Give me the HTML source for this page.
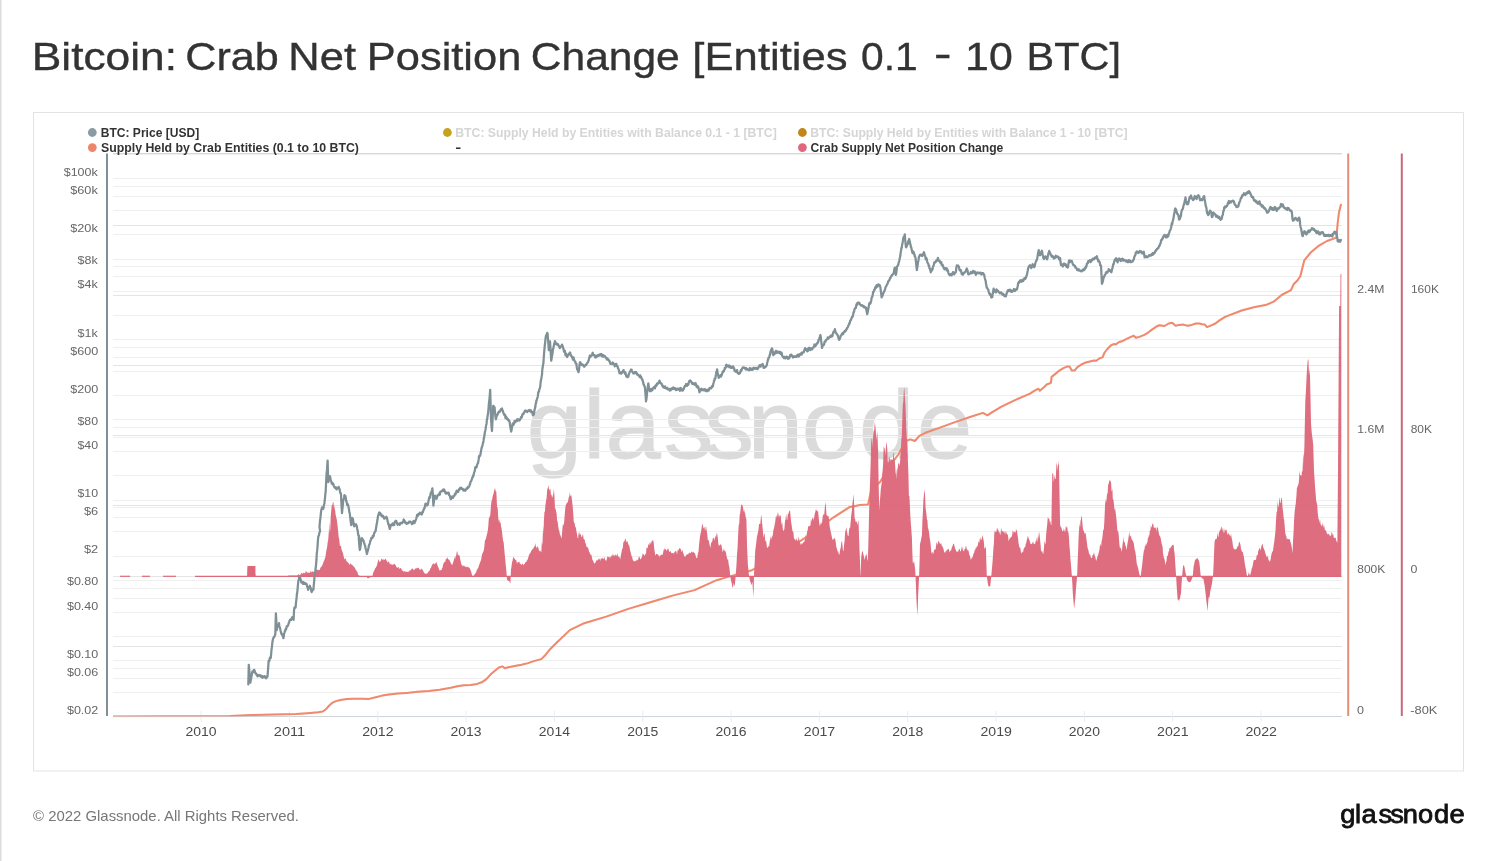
<!DOCTYPE html>
<html lang="en"><head><meta charset="utf-8"><title>Bitcoin: Crab Net Position Change [Entities 0.1 - 10 BTC]</title>
<style>
html,body{margin:0;padding:0;background:#fff;}
body{width:1495px;height:861px;overflow:hidden;font-family:"Liberation Sans",sans-serif;}
svg{display:block}
text{font-family:"Liberation Sans",sans-serif;}
</style></head><body>
<svg width="1495" height="861" viewBox="0 0 1495 861">
<rect x="0" y="0" width="1495" height="861" fill="#ffffff"/>
<rect x="0" y="0" width="1.5" height="861" fill="#dcdcdc"/>

<text fill="#333333" stroke="#333333" stroke-width="0.35" font-size="38.5px" y="70.3">
<tspan x="31.76" y="70.3" textLength="145.28" lengthAdjust="spacingAndGlyphs">Bitcoin:</tspan> <tspan x="185.26" y="70.3" textLength="93.66" lengthAdjust="spacingAndGlyphs">Crab</tspan> <tspan x="288.33" y="70.3" textLength="67.65" lengthAdjust="spacingAndGlyphs">Net</tspan> <tspan x="366.84" y="70.3" textLength="154.45" lengthAdjust="spacingAndGlyphs">Position</tspan> <tspan x="530.79" y="70.3" textLength="149.00" lengthAdjust="spacingAndGlyphs">Change</tspan> <tspan x="692.38" y="70.3" textLength="155.27" lengthAdjust="spacingAndGlyphs">[Entities</tspan> <tspan x="861.01" y="70.3" textLength="56.67" lengthAdjust="spacingAndGlyphs">0.1</tspan> <tspan x="933.92" y="66.8" textLength="17.47" lengthAdjust="spacingAndGlyphs">-</tspan> <tspan x="965.06" y="70.3" textLength="47.70" lengthAdjust="spacingAndGlyphs">10</tspan> <tspan x="1026.50" y="70.3" textLength="94.41" lengthAdjust="spacingAndGlyphs">BTC]</tspan>
</text>
<rect x="33.5" y="112.5" width="1430" height="658.5" fill="#fff" stroke="#e3e3e3" stroke-width="1"/>
<g fill="#dbdbdb" stroke="#dbdbdb" stroke-width="1.0">
<text transform="scale(1.035,1)" x="509.01 563.55 584.97 641.25 680.53 722.55 774.68 830.03 885.94" y="458" font-size="96px">glassnode</text>
</g>
<g stroke="#efefef" stroke-width="1" shape-rendering="crispEdges">
<line x1="112.5" x2="1341.5" y1="692.5" y2="692.5"/>
<line x1="112.5" x2="1341.5" y1="678.5" y2="678.5"/>
<line x1="112.5" x2="1341.5" y1="668.5" y2="668.5"/>
<line x1="112.5" x2="1341.5" y1="660.5" y2="660.5"/>
<line x1="112.5" x2="1341.5" y1="636.5" y2="636.5"/>
<line x1="112.5" x2="1341.5" y1="612.5" y2="612.5"/>
<line x1="112.5" x2="1341.5" y1="598.5" y2="598.5"/>
<line x1="112.5" x2="1341.5" y1="588.5" y2="588.5"/>
<line x1="112.5" x2="1341.5" y1="580.5" y2="580.5"/>
<line x1="112.5" x2="1341.5" y1="556.5" y2="556.5"/>
<line x1="112.5" x2="1341.5" y1="531.5" y2="531.5"/>
<line x1="112.5" x2="1341.5" y1="517.5" y2="517.5"/>
<line x1="112.5" x2="1341.5" y1="507.5" y2="507.5"/>
<line x1="112.5" x2="1341.5" y1="500.5" y2="500.5"/>
<line x1="112.5" x2="1341.5" y1="475.5" y2="475.5"/>
<line x1="112.5" x2="1341.5" y1="451.5" y2="451.5"/>
<line x1="112.5" x2="1341.5" y1="437.5" y2="437.5"/>
<line x1="112.5" x2="1341.5" y1="427.5" y2="427.5"/>
<line x1="112.5" x2="1341.5" y1="419.5" y2="419.5"/>
<line x1="112.5" x2="1341.5" y1="395.5" y2="395.5"/>
<line x1="112.5" x2="1341.5" y1="371.5" y2="371.5"/>
<line x1="112.5" x2="1341.5" y1="357.5" y2="357.5"/>
<line x1="112.5" x2="1341.5" y1="347.5" y2="347.5"/>
<line x1="112.5" x2="1341.5" y1="339.5" y2="339.5"/>
<line x1="112.5" x2="1341.5" y1="315.5" y2="315.5"/>
<line x1="112.5" x2="1341.5" y1="291.5" y2="291.5"/>
<line x1="112.5" x2="1341.5" y1="276.5" y2="276.5"/>
<line x1="112.5" x2="1341.5" y1="266.5" y2="266.5"/>
<line x1="112.5" x2="1341.5" y1="259.5" y2="259.5"/>
<line x1="112.5" x2="1341.5" y1="234.5" y2="234.5"/>
<line x1="112.5" x2="1341.5" y1="210.5" y2="210.5"/>
<line x1="112.5" x2="1341.5" y1="196.5" y2="196.5"/>
<line x1="112.5" x2="1341.5" y1="186.5" y2="186.5"/>
<line x1="112.5" x2="1341.5" y1="178.5" y2="178.5"/>
<line x1="112.5" x2="1341.5" y1="154.5" y2="154.5"/>
<line x1="112.5" x2="1341.5" y1="154.5" y2="154.5"/>
</g>
<g stroke="#e4e4e4" stroke-width="1" shape-rendering="crispEdges">
<line x1="112.5" x2="1341.5" y1="646.5" y2="646.5"/>
<line x1="112.5" x2="1341.5" y1="576.5" y2="576.5"/>
<line x1="112.5" x2="1341.5" y1="505.5" y2="505.5"/>
<line x1="112.5" x2="1341.5" y1="435.5" y2="435.5"/>
<line x1="112.5" x2="1341.5" y1="365.5" y2="365.5"/>
<line x1="112.5" x2="1341.5" y1="295.5" y2="295.5"/>
<line x1="112.5" x2="1341.5" y1="225.5" y2="225.5"/>
</g>
<line x1="112.5" x2="1341.5" y1="153.5" y2="153.5" stroke="#d8d8d8" stroke-width="1" shape-rendering="crispEdges"/>
<line x1="112.5" x2="1341.5" y1="716.5" y2="716.5" stroke="#cfd3da" stroke-width="1" shape-rendering="crispEdges"/>
<g stroke="#ececec" stroke-width="1">
<line x1="201.1" x2="201.1" y1="711" y2="722"/>
<line x1="289.4" x2="289.4" y1="711" y2="722"/>
<line x1="377.8" x2="377.8" y1="711" y2="722"/>
<line x1="466.1" x2="466.1" y1="711" y2="722"/>
<line x1="554.4" x2="554.4" y1="711" y2="722"/>
<line x1="642.8" x2="642.8" y1="711" y2="722"/>
<line x1="731.1" x2="731.1" y1="711" y2="722"/>
<line x1="819.4" x2="819.4" y1="711" y2="722"/>
<line x1="907.7" x2="907.7" y1="711" y2="722"/>
<line x1="996.1" x2="996.1" y1="711" y2="722"/>
<line x1="1084.4" x2="1084.4" y1="711" y2="722"/>
<line x1="1172.7" x2="1172.7" y1="711" y2="722"/>
<line x1="1261.1" x2="1261.1" y1="711" y2="722"/>
</g>
<g fill="#4a4a4a">
<text x="185.52" y="735.8" font-size="12px" textLength="31.11" lengthAdjust="spacingAndGlyphs">2010</text>
<text x="273.82" y="735.8" font-size="12px" textLength="31.29" lengthAdjust="spacingAndGlyphs">2011</text>
<text x="362.17" y="735.8" font-size="12px" textLength="31.42" lengthAdjust="spacingAndGlyphs">2012</text>
<text x="450.51" y="735.8" font-size="12px" textLength="31.11" lengthAdjust="spacingAndGlyphs">2013</text>
<text x="538.84" y="735.8" font-size="12px" textLength="31.11" lengthAdjust="spacingAndGlyphs">2014</text>
<text x="627.17" y="735.8" font-size="12px" textLength="31.11" lengthAdjust="spacingAndGlyphs">2015</text>
<text x="715.50" y="735.8" font-size="12px" textLength="31.11" lengthAdjust="spacingAndGlyphs">2016</text>
<text x="803.82" y="735.8" font-size="12px" textLength="31.42" lengthAdjust="spacingAndGlyphs">2017</text>
<text x="892.16" y="735.8" font-size="12px" textLength="31.11" lengthAdjust="spacingAndGlyphs">2018</text>
<text x="980.48" y="735.8" font-size="12px" textLength="31.42" lengthAdjust="spacingAndGlyphs">2019</text>
<text x="1068.82" y="735.8" font-size="12px" textLength="31.11" lengthAdjust="spacingAndGlyphs">2020</text>
<text x="1157.14" y="735.8" font-size="12px" textLength="31.42" lengthAdjust="spacingAndGlyphs">2021</text>
<text x="1245.47" y="735.8" font-size="12px" textLength="31.42" lengthAdjust="spacingAndGlyphs">2022</text>
</g>
<clipPath id="pc"><rect x="113" y="150" width="1229" height="566.2"/></clipPath>
<path clip-path="url(#pc)" d="M113.0,716.5 L230.0,716.1 L252.1,715.0 L274.2,714.5 L296.2,713.9 L307.3,713.2 L318.3,712.3 L322.7,711.5 L326.0,709.2 L329.3,705.5 L332.6,702.6 L336.0,701.1 L340.4,700.0 L347.0,699.1 L353.6,698.7 L362.5,698.7 L369.1,698.9 L375.7,697.3 L382.3,695.6 L388.9,694.5 L397.8,693.6 L406.6,692.9 L417.6,691.8 L428.7,691.1 L439.7,689.8 L450.8,687.8 L457.4,686.3 L464.0,685.2 L470.6,685.0 L477.2,683.9 L481.7,682.3 L486.1,679.4 L490.5,674.6 L494.9,670.8 L499.3,667.3 L502.6,666.4 L504.8,668.2 L508.1,667.3 L514.8,666.0 L521.4,664.7 L528.0,663.1 L534.6,660.9 L541.3,659.1 L545.7,654.7 L550.1,649.2 L554.5,644.8 L569.8,630.1 L584.2,623.2 L606.2,616.6 L628.3,608.9 L650.4,602.3 L672.5,595.6 L694.5,590.1 L716.6,580.2 L729.8,576.4 L751.9,570.2 L760.8,565.8 L778.4,554.8 L796.1,543.8 L815.9,530.5 L833.6,517.3 L849.1,507.3 L860.1,505.1 L868.1,504.4 L871.1,490.8 L880.2,481.7 L889.3,466.6 L898.3,454.5 L905.9,441.0 L910.4,439.4 L914.9,441.0 L919.4,435.8 L925.5,432.8 L940.6,427.4 L955.7,421.9 L970.8,416.8 L982.9,412.9 L987.4,415.3 L991.9,412.3 L1001.0,406.8 L1016.1,399.6 L1030.0,393.6 L1034.2,390.8 L1038.4,388.7 L1039.8,390.8 L1043.9,387.3 L1046.7,384.5 L1050.9,382.9 L1051.6,376.9 L1055.1,374.1 L1059.3,370.6 L1063.4,368.1 L1067.6,366.4 L1069.7,366.7 L1071.8,370.6 L1074.6,370.6 L1077.4,367.1 L1081.6,364.3 L1085.7,362.5 L1089.9,361.5 L1094.1,360.6 L1096.2,360.8 L1099.7,358.3 L1102.5,357.4 L1104.6,352.5 L1107.4,349.0 L1110.8,345.5 L1113.6,344.1 L1115.7,344.4 L1119.2,342.0 L1122.0,341.3 L1126.2,339.2 L1130.3,337.1 L1133.8,335.7 L1135.9,337.8 L1139.4,336.9 L1144.3,334.8 L1148.5,332.3 L1152.6,329.1 L1156.8,326.3 L1159.6,325.3 L1164.5,326.0 L1168.7,323.5 L1172.2,322.8 L1175.6,325.7 L1179.1,324.9 L1183.3,324.6 L1187.5,325.7 L1191.7,324.9 L1195.9,323.5 L1199.3,323.5 L1202.1,324.3 L1204.9,324.6 L1207.0,327.1 L1211.2,325.3 L1215.4,323.5 L1219.5,320.4 L1225.1,316.9 L1241.6,310.5 L1254.9,307.0 L1265.6,305.1 L1273.6,301.7 L1281.6,295.0 L1291.0,290.2 L1293.6,284.3 L1297.6,280.3 L1300.3,276.3 L1304.3,260.3 L1311.0,252.2 L1319.0,245.6 L1327.0,241.0 L1336.4,237.6 L1337.7,222.9 L1339.0,212.2 L1340.9,204.7" fill="none" stroke="#ef876b" stroke-width="2.0" stroke-linejoin="round" stroke-linecap="round"/>
<path d="M230.0,576.3 L230.0,576.4 L230.5,576.4 L230.9,576.4 L231.4,576.4 L231.8,576.4 L232.3,576.4 L232.7,576.4 L233.2,576.4 L233.6,576.4 L234.1,576.4 L234.5,576.4 L235.0,576.4 L235.4,576.4 L235.9,576.4 L236.3,576.4 L236.8,576.4 L237.2,576.4 L237.7,576.4 L238.2,576.4 L238.6,576.4 L239.1,576.4 L239.5,576.4 L240.0,576.4 L240.4,576.4 L240.9,576.4 L241.3,576.4 L241.8,576.4 L242.2,576.4 L242.7,576.4 L243.1,576.4 L243.6,576.4 L244.0,576.4 L244.5,576.4 L245.0,576.4 L245.4,576.4 L245.9,576.4 L246.3,576.4 L246.8,576.4 L247.2,576.4 L247.7,568.2 L248.2,567.5 L248.8,566.4 L249.3,566.3 L249.9,565.7 L250.3,566.0 L250.8,567.0 L251.3,566.3 L251.8,567.1 L252.2,565.6 L252.7,566.9 L253.2,566.6 L253.7,567.5 L254.2,567.5 L254.7,568.8 L255.4,575.3 L256.0,576.4 L256.5,576.4 L257.0,576.4 L257.4,576.4 L257.9,576.4 L258.3,576.4 L258.8,576.4 L259.2,576.4 L259.7,576.4 L260.1,576.4 L260.6,576.4 L261.0,576.4 L261.5,576.4 L262.0,576.4 L262.4,576.4 L262.9,576.4 L263.3,576.4 L263.8,576.4 L264.2,576.4 L264.7,576.4 L265.1,576.4 L265.6,576.4 L266.0,576.4 L266.5,576.4 L267.0,576.4 L267.4,576.4 L267.9,576.4 L268.3,576.4 L268.8,576.4 L269.2,576.4 L269.7,576.4 L270.1,576.4 L270.6,576.4 L271.0,576.4 L271.5,576.4 L271.9,576.4 L272.4,576.4 L272.9,576.4 L273.3,576.4 L273.8,576.4 L274.2,576.4 L274.7,576.4 L275.1,576.4 L275.6,576.4 L276.0,576.4 L276.5,576.4 L276.9,576.4 L277.4,576.4 L277.9,576.4 L278.3,576.4 L278.8,576.4 L279.2,576.4 L279.7,576.4 L280.1,576.4 L280.6,576.4 L281.0,576.4 L281.5,576.4 L281.9,576.4 L282.4,576.4 L282.9,576.4 L283.3,576.4 L283.8,576.4 L284.2,576.4 L284.7,576.4 L285.1,576.4 L285.6,576.4 L286.0,576.4 L286.5,576.4 L286.9,576.4 L287.4,576.4 L287.9,575.9 L288.5,575.5 L289.0,575.5 L289.4,575.5 L289.9,575.5 L290.3,575.5 L290.8,575.5 L291.2,575.5 L291.7,575.5 L292.1,575.5 L292.6,575.5 L293.0,575.5 L293.5,575.5 L294.0,575.5 L294.4,575.5 L294.9,575.5 L295.3,575.5 L295.8,575.5 L296.2,575.5 L296.7,575.4 L297.2,575.3 L297.6,575.2 L298.1,574.6 L298.6,574.3 L299.1,574.8 L299.5,575.0 L300.0,575.1 L300.5,574.4 L301.0,574.0 L301.4,572.8 L301.9,573.1 L302.4,573.5 L302.8,574.3 L303.3,572.7 L303.8,572.7 L304.3,573.5 L304.7,572.8 L305.2,573.4 L305.7,571.0 L306.2,571.4 L306.6,571.7 L307.1,572.2 L307.6,573.2 L308.1,572.5 L308.5,573.0 L309.0,572.0 L309.5,573.0 L310.0,572.7 L310.5,571.5 L310.9,570.8 L311.4,572.1 L311.9,572.6 L312.4,571.5 L312.9,571.1 L313.4,571.9 L313.9,572.0 L314.4,571.8 L314.9,571.9 L315.4,571.5 L315.8,570.2 L316.3,570.0 L316.8,569.0 L317.3,569.8 L317.8,569.9 L318.3,570.3 L318.8,569.7 L319.2,570.0 L319.7,570.1 L320.2,568.5 L320.7,567.2 L321.1,567.0 L321.6,566.4 L322.2,565.3 L322.7,564.6 L323.3,562.6 L323.8,561.3 L324.4,559.9 L324.9,558.6 L325.5,556.6 L326.0,552.8 L326.6,549.4 L327.1,547.2 L327.7,541.9 L328.2,540.1 L328.8,531.7 L329.3,522.0 L329.8,532.9 L330.3,529.1 L330.7,516.6 L331.2,511.0 L331.8,505.0 L332.4,505.0 L332.9,502.2 L333.5,502.3 L334.1,510.2 L334.6,504.6 L335.1,510.2 L335.6,514.4 L336.1,517.1 L336.7,519.0 L337.2,522.9 L337.8,527.4 L338.6,536.7 L339.3,539.9 L339.9,546.3 L340.4,545.7 L341.0,546.1 L341.5,549.6 L342.0,550.5 L342.5,552.2 L343.0,553.1 L343.6,556.3 L344.2,558.2 L344.8,559.7 L345.3,558.2 L345.9,559.0 L346.4,560.9 L347.0,561.7 L347.5,562.1 L347.9,562.4 L348.4,563.1 L348.9,563.6 L349.4,564.7 L349.8,564.7 L350.3,563.2 L350.9,563.8 L351.4,564.5 L352.0,565.1 L352.5,565.3 L353.1,565.6 L353.6,566.8 L354.2,567.0 L354.7,567.4 L355.3,568.8 L355.8,569.8 L356.4,570.8 L356.9,571.6 L357.5,572.1 L358.1,574.8 L358.7,575.3 L359.2,575.6 L359.7,576.0 L360.2,576.4 L360.7,576.4 L361.2,576.4 L361.6,576.4 L362.1,576.4 L362.5,576.4 L363.0,576.4 L363.5,576.4 L363.9,576.4 L364.4,576.4 L364.8,576.4 L365.3,576.4 L365.8,576.4 L366.3,576.8 L366.9,577.2 L367.4,578.3 L368.0,578.0 L368.5,578.3 L369.1,578.3 L369.6,577.3 L370.2,576.9 L370.7,577.4 L371.3,577.0 L371.8,576.7 L372.4,576.4 L372.9,573.8 L373.5,572.0 L374.1,570.7 L374.7,569.4 L375.3,567.9 L375.8,567.8 L376.4,566.5 L376.9,565.5 L377.5,563.1 L378.0,560.9 L378.5,559.2 L379.1,560.9 L379.6,562.3 L380.1,561.2 L380.7,561.4 L381.2,558.6 L381.8,559.0 L382.3,560.2 L382.8,558.9 L383.3,558.8 L383.7,560.6 L384.2,560.1 L384.7,559.5 L385.2,559.0 L385.6,558.6 L386.1,559.9 L386.7,560.4 L387.2,561.8 L387.7,562.7 L388.3,561.2 L388.8,562.1 L389.4,562.6 L389.9,564.5 L390.3,564.2 L390.8,563.5 L391.3,565.1 L391.8,564.0 L392.3,565.0 L392.8,564.4 L393.4,564.6 L393.9,564.2 L394.5,563.2 L395.0,565.0 L395.5,564.6 L396.0,566.6 L396.5,567.4 L397.0,566.7 L397.4,567.8 L397.9,567.9 L398.4,567.2 L398.9,567.1 L399.4,569.1 L400.0,568.6 L400.5,567.8 L401.1,568.2 L401.6,569.4 L402.0,570.2 L402.5,570.5 L403.0,571.3 L403.4,571.2 L403.9,571.4 L404.4,571.6 L404.9,570.9 L405.3,571.4 L405.8,572.2 L406.3,571.2 L406.8,572.0 L407.2,571.9 L407.7,571.7 L408.3,571.6 L408.8,571.8 L409.4,571.3 L409.9,569.8 L410.5,570.5 L411.0,570.1 L411.6,569.1 L412.1,568.7 L412.6,568.6 L413.1,568.6 L413.5,570.3 L414.0,570.1 L414.5,569.5 L415.0,569.0 L415.4,568.4 L416.0,568.3 L416.5,568.4 L417.1,567.9 L417.6,567.7 L418.2,567.8 L418.7,568.0 L419.3,568.9 L419.8,569.8 L420.4,570.1 L420.9,569.1 L421.5,568.7 L422.1,568.9 L422.6,569.9 L423.2,570.8 L423.7,572.0 L424.3,572.7 L424.8,573.6 L425.4,573.6 L425.9,573.9 L426.5,573.5 L427.0,573.5 L427.6,572.9 L428.1,572.2 L428.7,571.2 L429.2,571.0 L429.8,570.3 L430.3,568.3 L430.9,568.2 L431.4,566.2 L432.0,565.5 L432.5,564.1 L433.1,564.2 L433.6,562.9 L434.2,563.8 L434.7,564.6 L435.3,562.9 L435.8,563.5 L436.4,561.8 L437.0,563.9 L437.5,565.2 L438.1,567.1 L438.7,568.0 L439.3,570.6 L439.8,570.2 L440.4,569.9 L440.9,570.4 L441.5,569.8 L442.0,568.6 L442.5,567.8 L443.0,565.0 L443.6,563.3 L444.1,562.3 L444.7,561.9 L445.2,561.9 L445.8,559.2 L446.3,558.3 L446.9,559.1 L447.4,557.1 L448.0,559.3 L448.5,559.2 L449.0,559.8 L449.6,560.6 L450.2,561.7 L450.8,562.9 L451.3,564.3 L451.9,564.4 L452.5,564.8 L453.0,563.1 L453.5,561.2 L454.1,559.2 L454.6,556.8 L455.1,559.3 L455.6,556.3 L456.2,555.4 L456.8,551.7 L457.4,551.3 L457.9,555.2 L458.5,554.6 L459.0,555.9 L459.6,555.2 L460.2,559.5 L460.8,561.8 L461.3,564.4 L461.9,564.7 L462.4,565.4 L462.9,566.8 L463.4,565.7 L464.0,565.2 L464.5,566.0 L465.1,567.1 L465.7,566.8 L466.2,566.6 L466.8,567.3 L467.3,567.5 L467.9,566.3 L468.4,567.4 L469.0,567.2 L469.5,567.9 L470.0,568.8 L470.5,570.0 L471.1,571.5 L471.6,573.5 L472.2,575.3 L472.8,577.5 L473.4,576.4 L473.9,575.3 L474.5,574.2 L475.0,574.3 L475.6,572.8 L476.1,572.4 L476.7,569.8 L477.2,569.7 L477.8,568.3 L478.3,567.7 L478.9,565.4 L479.4,564.6 L480.0,562.6 L480.6,561.3 L481.1,559.7 L481.7,556.3 L482.2,553.9 L482.8,552.7 L483.3,551.7 L483.9,550.0 L484.4,545.9 L485.0,539.7 L485.5,539.9 L486.0,538.6 L486.5,536.1 L487.2,533.6 L487.8,530.4 L488.3,525.9 L488.8,518.6 L489.3,517.5 L489.8,516.4 L490.3,515.1 L490.9,506.5 L491.5,501.1 L492.1,499.8 L492.7,495.9 L493.3,494.4 L493.9,491.8 L494.5,489.3 L495.1,488.2 L495.7,491.6 L496.3,491.3 L497.1,507.9 L497.6,506.4 L498.2,517.3 L498.8,521.4 L499.3,519.4 L499.9,523.3 L500.5,522.0 L501.0,526.1 L501.5,528.3 L502.0,531.2 L502.4,535.2 L503.1,541.2 L503.6,541.7 L504.2,548.4 L504.7,554.3 L505.3,559.8 L505.8,565.8 L506.4,571.3 L507.0,579.7 L507.6,579.9 L508.1,580.9 L508.6,580.7 L509.2,581.1 L509.8,582.6 L510.4,583.6 L511.0,569.5 L511.6,565.8 L512.1,562.0 L512.6,560.5 L513.1,557.4 L513.7,557.2 L514.2,558.1 L514.7,559.0 L515.2,559.5 L515.8,560.0 L516.4,560.6 L517.0,564.0 L517.6,561.9 L518.2,562.1 L518.7,562.2 L519.3,561.2 L519.8,563.8 L520.3,563.8 L520.8,563.9 L521.4,565.2 L521.9,564.2 L522.5,563.6 L523.0,563.9 L523.4,565.6 L523.9,564.4 L524.4,563.7 L524.9,564.1 L525.3,561.7 L525.8,562.5 L526.4,561.7 L526.9,560.5 L527.5,559.7 L528.0,558.6 L528.6,556.4 L529.1,554.6 L529.7,554.0 L530.2,552.3 L530.8,553.0 L531.3,550.3 L531.9,550.5 L532.4,548.8 L533.0,549.2 L533.5,548.2 L534.1,546.3 L534.6,547.2 L535.2,543.0 L535.7,545.7 L536.3,547.0 L536.8,548.6 L537.4,546.4 L537.9,546.4 L538.5,548.2 L539.1,551.3 L539.5,551.2 L540.0,549.9 L540.6,551.2 L541.3,552.6 L541.8,541.9 L542.4,545.1 L542.8,534.2 L543.3,525.5 L543.5,534.8 L543.9,520.8 L544.4,512.4 L544.9,511.3 L545.4,505.5 L546.0,501.3 L546.6,497.7 L547.2,489.5 L547.8,488.4 L548.4,484.9 L548.9,488.5 L549.4,490.7 L549.9,489.0 L550.4,488.9 L551.0,495.5 L551.5,494.3 L552.1,497.9 L552.8,495.8 L553.4,493.4 L553.9,488.6 L554.5,497.2 L555.0,509.3 L555.5,508.0 L556.0,510.9 L556.6,513.6 L557.1,520.7 L557.6,521.5 L558.1,525.6 L558.7,529.4 L559.3,531.1 L559.9,534.2 L560.5,535.6 L561.0,537.1 L561.6,538.5 L562.1,532.7 L562.7,525.4 L563.2,523.6 L563.7,526.0 L564.2,521.6 L564.7,515.1 L565.3,507.8 L565.9,504.7 L566.5,503.8 L567.1,502.0 L567.7,503.1 L568.3,499.7 L568.8,497.1 L569.3,496.3 L569.8,491.9 L570.3,495.5 L570.8,496.2 L571.3,495.1 L572.0,500.6 L572.7,506.3 L573.2,512.9 L573.7,520.9 L574.2,523.0 L574.7,523.1 L575.2,528.0 L575.8,526.3 L576.4,531.3 L576.9,533.5 L577.5,537.5 L578.1,538.5 L578.6,532.2 L579.2,535.4 L579.7,531.8 L580.3,534.5 L580.8,534.3 L581.4,536.7 L581.9,537.2 L582.5,535.6 L583.0,534.0 L583.6,538.8 L584.2,539.4 L584.7,539.5 L585.3,543.2 L585.8,543.4 L586.4,546.8 L586.9,546.5 L587.5,547.4 L588.0,547.5 L588.6,549.4 L589.1,552.6 L589.7,552.1 L590.2,554.8 L590.8,554.3 L591.3,554.7 L591.9,557.0 L592.4,560.0 L593.0,560.4 L593.5,561.5 L594.1,563.4 L594.6,563.6 L595.2,562.7 L595.8,562.1 L596.4,560.6 L597.0,559.5 L597.5,560.8 L598.0,560.0 L598.5,558.9 L599.1,558.6 L599.6,558.9 L600.2,561.1 L600.7,558.7 L601.3,558.6 L601.8,558.4 L602.4,557.7 L602.9,558.8 L603.5,559.1 L604.0,558.0 L604.6,557.0 L605.1,560.3 L605.7,560.3 L606.2,561.1 L606.8,558.9 L607.3,556.6 L607.9,556.8 L608.4,557.2 L609.0,556.5 L609.5,556.8 L610.1,558.4 L610.6,556.6 L611.2,556.8 L611.7,555.1 L612.3,556.3 L612.8,553.5 L613.4,555.9 L614.0,554.0 L614.5,556.8 L615.1,554.3 L615.6,555.0 L616.2,556.2 L616.7,554.9 L617.3,553.5 L617.9,555.8 L618.4,556.7 L619.0,557.0 L619.5,556.8 L620.1,559.5 L620.6,557.3 L621.1,554.0 L621.6,551.9 L622.1,549.0 L622.7,548.6 L623.3,542.5 L623.9,541.5 L624.4,541.5 L624.9,539.5 L625.4,538.3 L626.0,540.4 L626.6,542.6 L627.2,541.3 L627.7,541.4 L628.2,544.8 L628.7,544.5 L629.4,546.2 L630.1,550.2 L630.6,552.2 L631.1,554.0 L631.6,556.6 L632.1,556.4 L632.6,559.3 L633.2,560.7 L633.7,560.9 L634.3,561.1 L634.9,561.7 L635.5,560.4 L636.0,561.4 L636.6,559.8 L637.1,559.6 L637.7,560.5 L638.2,559.6 L638.8,556.7 L639.3,556.7 L639.9,557.8 L640.4,559.8 L641.0,558.4 L641.5,557.7 L642.1,556.5 L642.6,553.5 L643.2,554.0 L643.8,554.4 L644.3,555.4 L644.9,555.5 L645.4,554.0 L646.0,553.4 L646.5,547.2 L647.1,548.3 L647.7,547.7 L648.2,544.6 L648.8,544.3 L649.3,545.4 L649.8,541.8 L650.4,542.7 L650.9,544.2 L651.5,541.7 L652.0,540.4 L652.5,541.1 L653.0,539.4 L653.7,542.8 L654.3,548.9 L654.9,552.8 L655.4,555.5 L655.9,554.9 L656.4,553.5 L657.0,554.0 L657.5,554.3 L658.1,554.5 L658.7,556.0 L659.2,555.1 L659.8,557.4 L660.3,555.5 L660.9,554.8 L661.4,554.7 L662.0,554.7 L662.5,555.1 L663.1,552.7 L663.6,549.7 L664.2,549.9 L664.7,547.9 L665.3,549.6 L665.8,549.1 L666.4,550.9 L666.9,549.8 L667.4,549.6 L668.0,548.4 L668.5,548.9 L669.1,551.4 L669.7,552.0 L670.2,551.6 L670.8,550.9 L671.3,553.2 L671.9,552.9 L672.5,553.2 L673.0,552.6 L673.6,554.0 L674.2,551.6 L674.8,553.0 L675.3,551.0 L675.9,551.1 L676.4,551.5 L677.0,554.5 L677.5,551.0 L678.1,549.2 L678.6,550.7 L679.2,548.1 L679.7,548.4 L680.3,548.6 L680.8,549.2 L681.4,551.2 L681.9,552.1 L682.4,549.2 L682.9,552.2 L683.5,553.6 L684.0,555.6 L684.6,556.7 L685.1,556.5 L685.7,556.6 L686.2,554.5 L686.8,554.9 L687.4,553.6 L687.9,555.3 L688.5,553.2 L689.0,553.5 L689.6,552.5 L690.1,552.8 L690.7,553.5 L691.2,551.0 L691.8,552.2 L692.3,552.0 L692.9,552.8 L693.4,551.6 L694.0,552.8 L694.5,553.0 L695.1,553.5 L695.6,555.4 L696.1,557.9 L696.7,557.8 L697.2,558.3 L697.8,553.7 L698.5,551.5 L699.0,545.5 L699.5,540.8 L700.0,536.4 L700.6,533.2 L701.1,531.5 L701.6,528.0 L702.3,524.3 L702.9,524.8 L703.4,528.5 L703.9,527.4 L704.5,527.1 L705.0,530.7 L705.5,529.0 L706.0,525.6 L706.7,530.7 L707.3,534.8 L707.8,540.0 L708.4,540.0 L708.9,540.9 L709.4,543.9 L709.9,546.1 L710.4,547.9 L711.0,543.4 L711.6,541.9 L712.2,541.6 L712.8,538.5 L713.4,538.0 L714.0,537.8 L714.5,540.7 L715.0,538.1 L715.5,535.2 L716.0,537.7 L716.5,534.5 L717.0,532.5 L717.7,537.1 L718.4,544.1 L718.9,546.0 L719.4,545.0 L719.9,545.4 L720.4,544.5 L720.9,544.0 L721.5,545.4 L722.0,548.2 L722.6,552.1 L723.2,551.2 L723.8,548.2 L724.4,550.4 L725.0,550.9 L725.5,551.2 L726.0,552.7 L726.5,556.1 L727.0,557.7 L727.6,559.9 L728.1,558.9 L728.7,564.4 L729.4,567.5 L730.3,576.4 L730.9,580.0 L731.6,582.4 L732.2,586.3 L732.7,587.9 L733.3,585.6 L733.8,583.0 L734.7,586.4 L735.6,576.9 L736.5,564.4 L737.0,554.5 L737.6,547.6 L738.1,535.4 L738.7,525.1 L739.2,524.0 L739.7,514.7 L740.2,513.3 L740.9,506.6 L741.5,504.1 L742.1,505.8 L742.6,505.0 L743.2,508.9 L743.8,511.5 L744.3,513.2 L744.8,509.0 L745.3,514.8 L745.8,517.5 L746.4,519.2 L747.1,547.4 L747.9,565.0 L748.5,570.9 L749.1,576.4 L749.6,578.9 L750.2,581.2 L750.8,583.1 L751.5,585.3 L752.4,581.8 L752.9,590.1 L753.5,596.9 L754.1,572.6 L754.7,562.2 L755.2,550.8 L755.7,547.3 L756.3,542.6 L756.8,537.8 L757.4,534.8 L758.0,531.9 L758.5,529.5 L759.1,523.7 L759.7,523.9 L760.3,524.0 L760.9,517.0 L761.4,514.7 L762.0,522.2 L762.5,526.8 L763.0,531.9 L763.5,537.8 L764.1,534.3 L764.6,533.5 L765.1,539.6 L765.6,541.5 L766.2,541.3 L766.8,546.6 L767.4,548.0 L768.0,547.6 L768.6,545.5 L769.1,547.0 L769.7,541.2 L770.2,539.5 L770.7,536.6 L771.2,536.8 L771.7,539.5 L772.2,536.4 L772.8,535.0 L773.4,530.0 L774.0,528.2 L774.6,524.9 L775.2,521.8 L775.8,516.8 L776.3,514.9 L776.8,517.9 L777.3,515.6 L777.8,512.0 L778.3,513.5 L778.9,517.3 L779.5,515.7 L780.2,515.0 L780.7,516.1 L781.2,521.4 L781.7,525.1 L782.2,521.9 L782.8,528.9 L783.3,530.8 L783.9,530.5 L784.4,528.7 L785.0,521.2 L785.6,519.0 L786.2,513.8 L786.8,519.7 L787.3,519.7 L787.8,514.3 L788.3,514.0 L788.9,512.2 L789.5,510.4 L790.1,510.7 L790.6,516.6 L791.1,521.9 L791.7,525.4 L792.2,529.6 L792.8,531.7 L793.4,532.1 L793.9,537.5 L794.5,539.5 L795.0,538.9 L795.5,540.2 L796.1,540.8 L796.6,537.8 L797.2,539.9 L797.7,541.4 L798.3,539.3 L798.8,536.2 L799.4,540.9 L799.9,543.0 L800.5,543.4 L801.0,545.6 L801.6,543.2 L802.1,543.2 L802.7,543.8 L803.2,541.9 L803.8,542.6 L804.3,541.7 L804.9,539.6 L805.5,534.3 L806.0,539.8 L806.6,535.6 L807.1,531.4 L807.7,530.0 L808.2,526.1 L808.8,526.6 L809.3,526.2 L809.9,525.5 L810.4,525.7 L811.0,518.8 L811.5,521.8 L812.1,518.9 L812.6,517.7 L813.2,517.8 L813.7,520.8 L814.3,516.6 L814.8,513.4 L815.4,511.8 L815.9,508.9 L816.5,510.1 L817.0,511.2 L817.6,511.1 L818.1,511.4 L818.6,516.8 L819.2,522.8 L819.8,525.9 L820.4,524.8 L820.9,522.1 L821.5,524.3 L822.1,521.8 L822.6,517.5 L823.1,513.5 L823.7,515.5 L824.3,514.0 L824.8,507.9 L825.4,502.0 L825.9,505.6 L826.5,515.0 L827.0,515.4 L827.6,516.3 L828.2,515.7 L828.7,516.8 L829.3,522.5 L829.8,527.3 L830.3,529.5 L830.8,532.0 L831.3,534.3 L831.8,536.7 L832.4,539.4 L833.0,540.0 L833.6,538.7 L834.2,539.0 L834.8,537.5 L835.4,540.0 L835.9,543.4 L836.4,548.1 L836.9,548.3 L837.5,552.0 L838.0,550.3 L838.6,553.5 L839.1,554.9 L839.6,553.5 L840.1,550.1 L840.7,547.7 L841.3,542.6 L842.0,540.8 L842.5,546.0 L843.0,550.5 L843.5,551.3 L844.0,545.5 L844.6,540.8 L845.1,532.4 L845.7,530.2 L846.4,527.0 L846.9,530.9 L847.4,533.7 L847.9,536.1 L848.5,536.1 L849.0,530.3 L849.5,527.4 L850.1,528.1 L850.7,521.8 L851.3,514.7 L851.9,510.3 L852.6,502.1 L853.1,499.6 L853.7,493.9 L854.6,518.3 L855.1,519.0 L855.6,521.9 L856.1,521.0 L856.8,522.2 L857.4,525.1 L858.0,521.0 L858.5,520.5 L859.4,547.1 L860.0,561.8 L860.5,577.9 L861.2,557.5 L861.7,553.6 L862.2,551.3 L862.7,551.2 L863.3,554.1 L863.9,556.3 L864.5,559.9 L865.1,557.4 L865.7,555.4 L866.3,553.6 L866.8,556.1 L867.3,559.2 L867.8,561.3 L868.3,545.0 L868.8,525.9 L869.2,507.4 L869.7,491.5 L870.2,477.4 L870.7,460.5 L871.1,443.2 L871.6,438.6 L872.1,437.8 L872.6,448.2 L873.2,434.7 L873.7,430.4 L874.2,430.5 L874.8,421.9 L875.4,426.6 L876.0,433.0 L876.6,440.2 L877.2,431.0 L877.6,437.9 L878.1,451.1 L878.7,486.7 L879.3,510.4 L879.8,501.8 L880.3,496.1 L880.8,489.0 L881.2,486.2 L881.7,482.9 L882.2,473.7 L882.6,470.7 L883.1,464.7 L883.7,446.1 L884.2,448.3 L884.7,448.5 L885.3,456.1 L885.8,448.6 L886.3,441.5 L886.8,445.0 L887.3,448.9 L887.7,462.7 L888.2,456.8 L888.6,463.4 L889.2,459.2 L889.7,455.5 L890.2,461.6 L890.8,459.0 L891.3,459.2 L891.8,460.0 L892.3,459.2 L892.9,460.3 L893.3,452.7 L893.8,453.0 L894.2,462.3 L894.7,457.7 L895.2,466.6 L895.7,475.0 L896.3,469.1 L896.8,479.8 L897.3,469.2 L897.8,467.8 L898.3,462.3 L898.8,464.2 L899.3,462.9 L899.8,466.5 L900.3,458.1 L900.8,451.3 L901.3,439.4 L901.8,435.5 L902.3,419.7 L902.8,404.5 L903.3,402.0 L903.8,390.8 L904.3,386.9 L904.9,397.4 L905.4,404.1 L905.9,417.1 L906.4,431.8 L906.9,439.1 L907.4,448.0 L907.9,461.1 L908.4,473.6 L908.9,495.9 L909.4,495.9 L909.9,506.6 L910.4,516.8 L910.9,524.3 L911.4,530.5 L911.9,537.5 L912.3,551.3 L912.8,563.1 L913.4,563.1 L914.0,560.5 L914.6,564.9 L915.2,569.6 L915.8,583.3 L916.4,598.6 L916.9,608.6 L917.3,615.6 L917.8,606.7 L918.2,593.5 L918.7,584.8 L919.1,576.2 L919.6,560.4 L920.0,544.2 L920.5,542.0 L921.0,540.0 L921.4,537.5 L921.9,535.4 L922.4,521.1 L922.9,512.1 L923.4,500.5 L924.0,493.9 L924.6,489.2 L925.1,496.3 L925.6,508.0 L926.1,512.1 L926.5,514.4 L927.0,519.8 L927.4,519.9 L927.9,527.8 L928.4,529.1 L929.0,531.9 L929.5,536.7 L930.0,539.7 L930.5,543.0 L931.0,548.8 L931.5,553.8 L932.0,551.9 L932.5,552.2 L933.0,554.1 L933.5,553.2 L933.9,550.6 L934.5,549.6 L935.0,549.6 L935.5,549.8 L936.1,545.6 L936.6,541.7 L937.1,543.7 L937.6,544.9 L938.2,540.1 L938.6,541.4 L939.1,542.0 L939.6,542.8 L940.1,544.4 L940.6,543.4 L941.1,543.1 L941.5,544.5 L942.0,546.8 L942.5,546.0 L943.0,547.9 L943.5,548.8 L944.1,552.1 L944.6,552.2 L945.1,553.2 L945.6,551.3 L946.2,551.3 L946.7,550.1 L947.2,550.2 L947.7,549.0 L948.2,549.0 L948.7,548.8 L949.2,550.8 L949.6,552.6 L950.1,551.1 L950.6,550.4 L951.1,550.4 L951.6,548.3 L952.1,546.7 L952.6,546.0 L953.1,544.0 L953.6,543.6 L954.2,544.7 L954.7,547.0 L955.2,548.9 L955.8,549.8 L956.3,551.4 L956.8,551.8 L957.2,550.7 L957.7,552.3 L958.2,551.8 L958.7,549.4 L959.2,549.5 L959.7,548.3 L960.1,551.3 L960.6,551.5 L961.1,550.1 L961.6,547.8 L962.2,546.6 L962.7,549.4 L963.2,550.9 L963.7,551.1 L964.2,550.8 L964.7,548.7 L965.2,549.0 L965.7,546.0 L966.2,546.5 L966.8,549.3 L967.3,549.5 L967.8,550.5 L968.4,550.2 L968.8,551.7 L969.3,554.8 L969.8,555.7 L970.3,557.6 L970.8,560.1 L971.3,559.0 L971.7,557.7 L972.2,557.6 L972.7,557.3 L973.2,554.6 L973.7,553.4 L974.2,552.5 L974.8,549.6 L975.3,549.9 L975.8,547.5 L976.4,547.9 L976.9,546.0 L977.4,546.6 L977.9,545.0 L978.4,541.6 L978.9,541.8 L979.3,543.1 L979.8,538.4 L980.3,540.3 L980.8,537.0 L981.3,538.8 L981.8,540.4 L982.3,535.0 L982.9,536.7 L983.4,539.3 L983.9,542.3 L984.4,549.3 L984.9,547.9 L985.4,548.0 L985.9,546.1 L986.3,561.3 L986.8,576.2 L987.3,579.3 L987.8,583.0 L988.3,585.8 L988.7,586.5 L989.2,586.1 L989.6,586.5 L990.1,587.0 L990.7,581.6 L991.3,576.2 L991.9,569.0 L992.5,562.2 L993.0,554.9 L993.4,548.3 L993.9,543.3 L994.3,533.2 L994.9,530.2 L995.4,531.5 L995.9,532.3 L996.4,531.6 L996.9,528.2 L997.4,528.2 L997.9,530.1 L998.4,530.2 L998.9,532.0 L999.4,532.1 L999.9,534.0 L1000.4,535.2 L1000.9,529.8 L1001.4,528.1 L1001.9,531.9 L1002.5,531.1 L1003.0,530.9 L1003.5,531.2 L1004.1,533.8 L1004.6,530.7 L1005.1,534.6 L1005.6,531.7 L1006.0,531.0 L1006.5,533.0 L1007.0,534.3 L1007.5,534.5 L1008.0,535.3 L1008.5,540.2 L1008.9,541.0 L1009.4,539.1 L1009.9,538.1 L1010.5,537.6 L1011.0,537.6 L1011.5,536.4 L1012.0,536.2 L1012.5,529.6 L1013.0,534.7 L1013.5,531.0 L1014.0,531.7 L1014.6,532.1 L1015.0,532.1 L1015.5,532.9 L1016.0,529.3 L1016.5,530.0 L1017.0,531.0 L1017.5,535.0 L1018.0,538.0 L1018.6,543.4 L1019.1,546.0 L1019.6,547.7 L1020.0,547.6 L1020.5,548.7 L1021.0,553.1 L1021.5,553.5 L1022.0,551.0 L1022.6,552.4 L1023.1,552.2 L1023.6,548.9 L1024.1,548.1 L1024.7,547.2 L1025.2,547.0 L1025.7,543.9 L1026.2,543.0 L1026.7,540.5 L1027.2,538.4 L1027.7,536.2 L1028.1,536.2 L1028.6,538.5 L1029.1,539.3 L1029.6,540.8 L1030.1,541.9 L1030.6,544.3 L1031.1,543.8 L1031.6,543.9 L1032.1,543.7 L1032.7,542.2 L1033.2,541.2 L1033.7,543.9 L1034.3,543.6 L1034.8,544.4 L1035.3,543.2 L1035.7,540.9 L1036.2,541.1 L1036.7,538.3 L1037.2,536.8 L1037.7,542.6 L1038.2,537.5 L1038.6,535.0 L1039.1,531.5 L1039.6,535.3 L1040.1,540.1 L1040.6,545.1 L1041.1,552.2 L1041.7,550.4 L1042.2,551.0 L1042.7,553.0 L1043.2,554.2 L1043.7,551.0 L1044.2,544.4 L1044.7,540.5 L1045.2,544.3 L1045.7,542.8 L1046.2,533.8 L1046.7,528.7 L1047.2,524.7 L1047.8,517.0 L1048.3,518.2 L1048.8,518.6 L1049.4,519.3 L1049.9,523.1 L1050.4,520.7 L1050.9,525.3 L1051.4,524.8 L1051.8,497.6 L1052.3,472.8 L1052.8,473.5 L1053.3,474.6 L1053.7,482.0 L1054.2,478.7 L1054.7,475.0 L1055.2,479.3 L1055.8,478.6 L1056.3,466.4 L1056.8,462.0 L1057.4,470.7 L1057.9,464.7 L1058.4,464.7 L1058.9,460.1 L1059.5,494.2 L1060.1,524.5 L1060.7,527.2 L1061.2,527.1 L1061.7,528.8 L1062.3,531.4 L1062.8,530.7 L1063.3,531.1 L1063.8,528.2 L1064.4,530.3 L1064.9,531.9 L1065.3,530.9 L1065.8,526.3 L1066.3,527.9 L1066.8,525.9 L1067.2,527.1 L1067.7,531.2 L1068.1,531.4 L1068.6,533.3 L1069.1,539.9 L1069.5,546.8 L1070.0,551.8 L1070.4,558.6 L1070.9,564.1 L1071.4,570.3 L1071.9,576.2 L1072.4,585.1 L1072.8,593.0 L1073.3,599.1 L1073.8,604.9 L1074.3,608.6 L1074.8,602.3 L1075.3,598.6 L1075.8,591.2 L1076.4,584.0 L1077.1,576.2 L1077.6,562.2 L1078.1,551.6 L1078.6,536.6 L1079.1,529.0 L1079.6,523.6 L1080.1,527.3 L1080.5,520.8 L1081.0,519.6 L1081.4,516.1 L1081.9,516.6 L1082.4,523.6 L1082.9,528.5 L1083.4,530.5 L1083.9,531.1 L1084.5,533.6 L1085.0,533.4 L1085.5,532.8 L1086.0,535.8 L1086.5,539.6 L1087.0,543.6 L1087.4,546.7 L1087.9,549.1 L1088.5,550.6 L1089.0,553.4 L1089.5,554.9 L1090.0,553.8 L1090.6,556.4 L1091.1,558.1 L1091.6,558.1 L1092.1,557.5 L1092.6,555.1 L1093.1,554.8 L1093.5,554.2 L1094.0,552.2 L1094.5,554.7 L1095.0,556.6 L1095.5,557.7 L1096.1,561.1 L1096.6,559.7 L1097.1,557.8 L1097.7,555.9 L1098.2,555.1 L1098.6,553.1 L1099.1,551.5 L1099.5,549.0 L1100.0,544.9 L1100.5,543.9 L1101.1,547.0 L1101.6,541.1 L1102.1,539.4 L1102.6,535.5 L1103.2,529.6 L1103.7,530.2 L1104.2,524.1 L1104.7,513.2 L1105.1,504.4 L1105.6,498.7 L1106.0,502.5 L1106.6,498.8 L1107.1,492.8 L1107.6,494.8 L1108.2,482.8 L1108.7,485.2 L1109.2,479.7 L1109.7,481.2 L1110.1,479.7 L1110.6,482.5 L1111.0,481.3 L1111.5,490.6 L1111.9,491.6 L1112.4,488.2 L1112.8,498.9 L1113.3,499.4 L1113.7,501.4 L1114.2,506.9 L1114.6,509.9 L1115.1,508.5 L1115.6,511.9 L1116.2,517.1 L1116.7,522.0 L1117.2,529.0 L1117.7,531.2 L1118.3,531.4 L1118.8,535.7 L1119.3,543.5 L1119.8,547.4 L1120.3,547.7 L1120.8,547.9 L1121.3,550.2 L1121.7,551.8 L1122.2,547.9 L1122.6,543.7 L1123.1,541.3 L1123.6,536.8 L1124.0,542.2 L1124.5,541.8 L1124.9,542.9 L1125.4,547.1 L1125.8,544.7 L1126.3,548.5 L1126.7,549.9 L1127.2,545.3 L1127.7,541.9 L1128.2,539.8 L1128.8,535.2 L1129.3,531.6 L1129.8,536.8 L1130.3,536.3 L1130.9,535.4 L1131.4,538.6 L1131.9,539.4 L1132.4,541.0 L1132.9,539.9 L1133.3,542.1 L1133.8,543.2 L1134.3,547.2 L1134.8,550.0 L1135.3,551.4 L1135.8,554.7 L1136.3,559.5 L1136.8,564.1 L1137.4,565.5 L1137.9,567.5 L1138.4,569.2 L1138.9,572.3 L1139.5,574.5 L1140.0,576.3 L1140.5,579.0 L1140.9,574.4 L1141.4,570.8 L1141.8,567.6 L1142.3,563.8 L1142.8,558.8 L1143.3,554.5 L1143.9,550.2 L1144.4,549.8 L1144.9,546.0 L1145.4,546.3 L1146.0,543.1 L1146.5,545.6 L1147.0,542.4 L1147.5,542.1 L1147.9,537.8 L1148.4,537.8 L1148.9,535.1 L1149.4,535.5 L1149.9,529.7 L1150.4,530.9 L1150.8,525.2 L1151.3,526.8 L1151.8,527.8 L1152.3,523.3 L1152.8,523.9 L1153.4,524.6 L1153.9,528.2 L1154.4,527.7 L1155.0,527.2 L1155.4,528.7 L1155.9,526.9 L1156.4,532.0 L1156.9,527.0 L1157.4,528.3 L1157.9,526.6 L1158.4,531.0 L1159.0,534.0 L1159.5,535.7 L1160.0,536.3 L1160.5,537.3 L1161.1,540.7 L1161.6,543.5 L1162.1,544.9 L1162.6,547.0 L1163.0,553.0 L1163.5,555.9 L1164.0,558.3 L1164.5,558.9 L1165.0,561.9 L1165.5,565.3 L1166.0,562.5 L1166.5,561.0 L1167.0,556.3 L1167.5,555.9 L1168.0,555.1 L1168.5,550.7 L1169.0,552.3 L1169.4,548.2 L1170.0,547.8 L1170.5,548.4 L1171.0,546.3 L1171.6,546.4 L1172.1,544.7 L1172.6,545.1 L1173.1,545.7 L1173.6,544.0 L1174.1,550.4 L1174.6,553.0 L1175.1,561.3 L1175.6,568.4 L1176.1,576.2 L1176.7,586.8 L1177.3,595.1 L1177.7,599.7 L1178.2,600.7 L1178.7,599.3 L1179.1,601.6 L1179.4,598.7 L1179.9,599.3 L1180.5,595.3 L1181.0,593.5 L1181.5,585.0 L1182.1,576.4 L1182.6,570.4 L1183.2,565.0 L1183.7,565.4 L1184.2,566.0 L1184.7,568.5 L1185.4,572.1 L1186.0,574.8 L1186.9,579.8 L1187.6,580.9 L1188.3,581.5 L1188.8,582.2 L1189.3,582.1 L1189.8,582.5 L1190.3,581.4 L1190.8,581.7 L1191.3,580.2 L1192.0,578.7 L1192.7,576.4 L1193.6,566.6 L1194.1,564.5 L1194.7,561.2 L1195.3,559.0 L1195.9,560.0 L1196.4,558.7 L1197.0,558.3 L1197.5,558.0 L1198.1,559.3 L1198.7,560.2 L1199.3,562.0 L1199.8,566.6 L1200.3,571.4 L1200.8,576.4 L1201.4,577.3 L1201.9,578.6 L1202.6,578.4 L1203.3,578.4 L1203.9,581.5 L1204.6,585.3 L1205.3,591.3 L1205.9,596.4 L1206.4,601.4 L1206.9,605.0 L1207.5,611.6 L1208.0,604.6 L1208.6,597.7 L1209.2,597.2 L1209.7,596.3 L1210.3,591.0 L1210.8,588.9 L1211.4,586.4 L1211.9,584.1 L1212.4,580.8 L1213.0,576.4 L1213.6,564.8 L1214.5,542.3 L1215.1,539.8 L1215.7,539.1 L1216.3,538.8 L1216.8,539.1 L1217.3,532.5 L1217.8,535.9 L1218.4,537.2 L1218.9,532.4 L1219.5,531.6 L1220.0,530.0 L1220.5,530.1 L1221.0,527.2 L1221.5,526.6 L1222.0,530.0 L1222.4,527.7 L1222.9,531.1 L1223.4,533.2 L1223.9,527.8 L1224.3,529.3 L1224.8,533.2 L1225.3,529.9 L1225.8,530.1 L1226.3,529.3 L1226.8,531.2 L1227.3,534.1 L1227.9,534.8 L1228.4,532.3 L1229.0,535.0 L1229.5,534.0 L1230.1,536.8 L1230.6,535.8 L1231.1,533.9 L1231.7,538.2 L1232.3,540.8 L1232.8,544.7 L1233.4,548.0 L1234.0,548.8 L1234.6,549.4 L1235.1,548.7 L1235.6,549.9 L1236.2,548.6 L1236.7,548.9 L1237.2,547.2 L1237.7,546.0 L1238.3,546.4 L1238.9,542.5 L1239.5,541.8 L1240.0,543.2 L1240.5,544.7 L1241.0,548.9 L1241.7,550.9 L1242.3,552.3 L1242.9,551.9 L1243.4,555.2 L1243.9,556.5 L1244.5,561.5 L1245.1,565.2 L1245.7,568.5 L1246.2,570.9 L1246.8,575.2 L1247.6,577.3 L1248.2,574.8 L1248.7,572.3 L1249.4,574.1 L1250.1,575.8 L1250.6,573.3 L1251.1,571.8 L1251.6,568.9 L1252.1,567.7 L1252.6,565.9 L1253.2,562.6 L1253.7,560.4 L1254.3,559.9 L1254.9,560.0 L1255.5,560.1 L1256.1,559.2 L1256.7,555.5 L1257.2,554.7 L1257.7,555.4 L1258.2,551.1 L1258.7,550.3 L1259.3,548.3 L1259.8,548.1 L1260.3,550.5 L1260.9,548.5 L1261.4,546.2 L1262.0,544.7 L1262.6,543.5 L1263.2,547.2 L1263.8,548.4 L1264.3,549.8 L1264.9,551.3 L1265.5,553.8 L1266.0,555.1 L1266.5,557.5 L1267.1,555.4 L1267.6,556.7 L1268.1,557.6 L1268.6,560.2 L1269.3,560.4 L1269.9,561.9 L1270.4,560.2 L1271.0,556.9 L1271.5,554.1 L1272.0,552.4 L1272.5,551.6 L1273.0,550.8 L1273.7,545.3 L1274.3,541.3 L1274.9,536.3 L1275.5,530.6 L1276.0,520.5 L1276.6,512.0 L1277.1,511.7 L1277.6,500.4 L1278.1,507.2 L1278.7,505.6 L1279.2,501.1 L1279.8,496.7 L1280.3,503.3 L1280.8,502.7 L1281.3,497.9 L1281.9,497.7 L1282.5,507.1 L1283.2,512.5 L1283.7,518.6 L1284.2,519.9 L1284.7,526.1 L1285.2,532.4 L1285.8,535.5 L1286.3,536.0 L1286.9,539.7 L1287.4,538.2 L1288.0,539.2 L1288.6,539.1 L1289.2,539.5 L1289.8,538.8 L1290.3,541.6 L1290.8,542.7 L1291.3,544.8 L1291.9,547.9 L1292.5,553.4 L1293.0,541.8 L1293.6,530.9 L1294.1,519.9 L1294.6,511.9 L1295.1,507.9 L1295.8,503.1 L1296.4,496.0 L1296.9,488.0 L1297.5,486.8 L1298.0,484.9 L1298.5,484.3 L1299.0,480.3 L1299.5,470.6 L1300.1,475.7 L1300.6,474.8 L1301.5,476.1 L1302.0,470.6 L1302.5,471.9 L1303.0,458.2 L1303.0,466.4 L1303.5,452.5 L1303.9,457.5 L1304.4,446.1 L1305.3,401.4 L1305.9,391.3 L1306.5,378.5 L1307.1,367.5 L1307.7,360.4 L1308.4,358.9 L1309.0,375.2 L1309.5,368.1 L1310.0,376.4 L1310.5,398.0 L1311.0,423.1 L1311.5,430.1 L1312.1,436.1 L1312.6,439.3 L1313.2,445.0 L1314.1,473.1 L1314.6,479.2 L1315.1,487.7 L1315.6,492.9 L1316.1,500.2 L1316.7,502.7 L1317.2,505.1 L1317.8,513.5 L1318.5,519.2 L1319.0,519.4 L1319.5,523.6 L1320.0,518.4 L1320.6,524.5 L1321.1,524.7 L1321.7,526.5 L1322.3,522.4 L1322.8,526.1 L1323.4,527.8 L1323.9,523.9 L1324.5,527.5 L1325.0,530.4 L1325.6,530.3 L1326.1,530.5 L1326.7,533.0 L1327.2,533.4 L1327.8,534.4 L1328.3,533.8 L1328.9,534.3 L1329.4,534.4 L1329.9,536.4 L1330.4,535.6 L1331.1,535.4 L1331.7,531.6 L1332.3,533.2 L1332.8,535.6 L1333.3,533.9 L1333.8,537.9 L1334.3,537.9 L1334.8,537.5 L1335.5,537.6 L1336.2,540.5 L1336.7,541.5 L1337.3,543.2 L1337.4,540.0 L1338.0,470.0 L1338.6,380.0 L1339.1,306.0 L1340.3,306.0 L1340.5,274.0 L1341.3,274.0 L1341.3,576.3Z" fill="#dc6276" fill-opacity="0.93"/>
<path d="M113.0,716.5 L230.0,716.1 L252.1,715.0 L274.2,714.5 L296.2,713.9 L307.3,713.2 L318.3,712.3 L322.7,711.5 L326.0,709.2 L329.3,705.5 L332.6,702.6 L336.0,701.1 L340.4,700.0 L347.0,699.1 L353.6,698.7 L362.5,698.7 L369.1,698.9 L375.7,697.3 L382.3,695.6 L388.9,694.5 L397.8,693.6 L406.6,692.9 L417.6,691.8 L428.7,691.1 L439.7,689.8 L450.8,687.8 L457.4,686.3 L464.0,685.2 L470.6,685.0 L477.2,683.9 L481.7,682.3 L486.1,679.4 L490.5,674.6 L494.9,670.8 L499.3,667.3 L502.6,666.4 L504.8,668.2 L508.1,667.3 L514.8,666.0 L521.4,664.7 L528.0,663.1 L534.6,660.9 L541.3,659.1 L545.7,654.7 L550.1,649.2 L554.5,644.8 L569.8,630.1 L584.2,623.2 L606.2,616.6 L628.3,608.9 L650.4,602.3 L672.5,595.6 L694.5,590.1 L716.6,580.2 L729.8,576.4 L751.9,570.2 L760.8,565.8 L778.4,554.8 L796.1,543.8 L815.9,530.5 L833.6,517.3 L849.1,507.3 L860.1,505.1 L868.1,504.4 L871.1,490.8 L880.2,481.7 L889.3,466.6 L898.3,454.5 L905.9,441.0 L910.4,439.4 L914.9,441.0 L919.4,435.8 L925.5,432.8 L940.6,427.4 L955.7,421.9 L970.8,416.8 L982.9,412.9 L987.4,415.3 L991.9,412.3 L1001.0,406.8 L1016.1,399.6 L1030.0,393.6 L1034.2,390.8 L1038.4,388.7 L1039.8,390.8 L1043.9,387.3 L1046.7,384.5 L1050.9,382.9 L1051.6,376.9 L1055.1,374.1 L1059.3,370.6 L1063.4,368.1 L1067.6,366.4 L1069.7,366.7 L1071.8,370.6 L1074.6,370.6 L1077.4,367.1 L1081.6,364.3 L1085.7,362.5 L1089.9,361.5 L1094.1,360.6 L1096.2,360.8 L1099.7,358.3 L1102.5,357.4 L1104.6,352.5 L1107.4,349.0 L1110.8,345.5 L1113.6,344.1 L1115.7,344.4 L1119.2,342.0 L1122.0,341.3 L1126.2,339.2 L1130.3,337.1 L1133.8,335.7 L1135.9,337.8 L1139.4,336.9 L1144.3,334.8 L1148.5,332.3 L1152.6,329.1 L1156.8,326.3 L1159.6,325.3 L1164.5,326.0 L1168.7,323.5 L1172.2,322.8 L1175.6,325.7 L1179.1,324.9 L1183.3,324.6 L1187.5,325.7 L1191.7,324.9 L1195.9,323.5 L1199.3,323.5 L1202.1,324.3 L1204.9,324.6 L1207.0,327.1 L1211.2,325.3 L1215.4,323.5 L1219.5,320.4 L1225.1,316.9 L1241.6,310.5 L1254.9,307.0 L1265.6,305.1 L1273.6,301.7 L1281.6,295.0 L1291.0,290.2 L1293.6,284.3 L1297.6,280.3 L1300.3,276.3 L1304.3,260.3 L1311.0,252.2 L1319.0,245.6 L1327.0,241.0 L1336.4,237.6 L1337.7,222.9 L1339.0,212.2 L1340.9,204.7" fill="none" stroke="#f29678" stroke-opacity="0.18" stroke-width="2.0" stroke-linejoin="round"/>
<g stroke="#de687a" stroke-width="1.2">
<line x1="120" x2="130" y1="576.3" y2="576.3"/>
<line x1="142" x2="150" y1="576.3" y2="576.3"/>
<line x1="163" x2="176" y1="576.3" y2="576.3"/>
<line x1="195" x2="1341.5" y1="576.3" y2="576.3"/>
</g>
<rect x="247.4" y="566" width="8" height="10.5" fill="#de687a"/>
<path d="M248.3,684.4 L248.8,664.9 L249.1,668.2 L249.4,671.5 L249.7,674.5 L250.0,678.3 L250.3,682.7 L250.7,680.8 L251.0,679.3 L251.4,677.0 L251.7,675.0 L252.1,672.9 L252.4,671.4 L252.7,672.2 L253.0,672.3 L253.3,672.3 L253.7,670.8 L254.0,669.9 L254.3,669.8 L254.6,670.7 L254.9,671.8 L255.2,672.4 L255.5,673.4 L255.9,673.3 L256.2,674.1 L256.5,674.9 L256.8,674.4 L257.1,675.8 L257.4,675.8 L257.7,676.3 L258.0,675.4 L258.3,674.9 L258.6,674.9 L258.9,675.1 L259.2,675.7 L259.5,675.9 L259.8,675.6 L260.1,675.2 L260.4,675.3 L260.7,676.6 L261.0,676.0 L261.3,676.5 L261.6,676.9 L261.9,676.0 L262.2,676.6 L262.5,677.8 L262.8,676.3 L263.1,676.7 L263.4,676.9 L263.7,676.6 L264.1,677.2 L264.4,677.2 L264.7,676.2 L265.0,677.2 L265.3,677.6 L265.6,677.9 L266.0,678.4 L266.3,678.0 L266.6,677.6 L266.9,676.4 L267.2,677.0 L267.5,676.5 L267.9,671.5 L268.3,666.2 L268.6,661.2 L268.9,660.6 L269.3,661.2 L269.6,658.9 L269.9,657.7 L270.2,657.8 L270.5,658.3 L270.8,657.6 L271.2,653.4 L271.5,649.5 L271.8,648.0 L272.1,645.2 L272.4,642.3 L272.7,640.8 L273.0,638.8 L273.4,638.0 L273.7,637.3 L274.0,636.8 L274.3,637.0 L274.6,636.1 L274.9,635.3 L275.3,634.6 L275.6,622.7 L275.9,613.3 L276.4,622.0 L276.8,630.2 L277.1,627.7 L277.4,626.9 L277.7,627.0 L278.1,625.0 L278.4,624.7 L278.7,624.9 L279.0,623.1 L279.3,625.7 L279.6,627.1 L280.0,627.9 L280.3,629.2 L280.6,630.8 L280.9,631.8 L281.2,633.6 L281.5,633.4 L281.8,633.7 L282.2,635.1 L282.5,635.5 L282.8,635.4 L283.1,636.8 L283.4,638.2 L283.8,636.1 L284.1,633.7 L284.5,632.6 L284.8,631.4 L285.2,630.1 L285.5,630.5 L285.8,628.8 L286.2,629.0 L286.5,627.2 L286.8,626.2 L287.2,626.3 L287.5,626.3 L287.8,625.9 L288.2,624.9 L288.5,623.9 L288.8,622.9 L289.1,622.4 L289.4,621.2 L289.7,620.5 L290.0,619.9 L290.4,619.4 L290.7,619.4 L291.0,619.2 L291.3,619.9 L291.6,619.0 L291.9,617.9 L292.3,617.1 L292.6,617.7 L292.9,618.9 L293.2,619.0 L293.6,619.7 L294.0,610.8 L294.3,608.1 L294.6,607.4 L294.9,607.6 L295.3,607.7 L295.6,607.4 L295.9,603.7 L296.2,601.0 L296.6,597.7 L296.9,593.9 L297.2,592.9 L297.5,589.8 L297.8,586.3 L298.1,583.5 L298.4,580.7 L298.8,579.8 L299.1,577.3 L299.4,577.0 L299.8,577.4 L300.1,577.4 L300.4,578.5 L300.8,580.0 L301.1,581.2 L301.4,582.5 L301.7,581.5 L302.1,581.8 L302.4,582.1 L302.7,583.0 L303.0,583.9 L303.3,582.1 L303.6,583.8 L304.0,583.1 L304.3,583.8 L304.6,582.8 L304.9,583.2 L305.2,584.0 L305.5,583.5 L305.8,583.4 L306.2,583.6 L306.5,584.2 L306.8,584.7 L307.1,586.4 L307.4,587.4 L307.7,587.4 L308.1,589.8 L308.4,588.9 L308.7,588.6 L309.0,587.4 L309.3,586.7 L309.6,586.4 L309.9,585.7 L310.3,587.4 L310.6,587.7 L311.0,588.5 L311.3,591.0 L311.7,592.1 L312.0,590.9 L312.4,589.6 L312.7,590.2 L313.1,589.8 L313.4,589.7 L313.8,584.9 L314.2,581.2 L314.5,576.7 L314.9,574.7 L315.2,572.8 L315.5,568.9 L315.8,567.0 L316.1,564.3 L316.5,559.2 L316.8,553.3 L317.2,550.2 L317.6,545.6 L317.9,540.7 L318.3,536.7 L318.7,535.6 L319.0,535.1 L319.4,532.6 L319.7,532.0 L320.1,531.4 L319.5,526.8 L319.8,523.1 L320.2,519.4 L320.5,517.2 L320.8,514.2 L321.1,511.2 L321.5,509.1 L321.8,508.7 L322.1,507.3 L322.5,507.8 L322.8,507.3 L323.2,508.9 L323.5,507.7 L323.8,505.8 L324.1,504.5 L324.4,503.6 L324.7,500.4 L325.0,498.1 L325.3,494.5 L325.6,491.9 L326.0,485.2 L326.3,478.2 L326.6,473.3 L327.0,469.9 L327.3,464.6 L327.6,460.6 L327.9,470.2 L328.3,482.1 L328.7,479.9 L329.0,478.8 L329.4,477.4 L329.8,476.1 L330.1,476.8 L330.4,478.2 L330.7,480.5 L331.1,481.0 L331.4,482.1 L331.7,483.5 L332.0,483.3 L332.3,482.8 L332.6,483.1 L332.9,484.6 L333.2,483.8 L333.5,484.3 L333.8,485.8 L334.1,486.7 L334.5,486.9 L334.8,487.7 L335.1,488.0 L335.4,487.4 L335.7,487.1 L336.0,487.7 L336.3,489.3 L336.6,489.4 L336.9,488.8 L337.2,488.5 L337.5,487.8 L337.8,488.2 L338.1,487.7 L338.4,488.4 L338.7,486.9 L339.0,487.8 L339.3,488.9 L339.7,489.3 L340.0,491.7 L340.3,493.0 L340.7,492.9 L341.0,494.4 L341.3,500.9 L341.6,506.6 L342.0,513.1 L342.3,509.8 L342.7,506.4 L343.0,502.6 L343.4,499.5 L343.8,498.7 L344.1,497.7 L344.4,495.2 L344.8,495.5 L345.1,495.5 L345.5,496.6 L345.8,497.9 L346.1,500.9 L346.5,501.0 L346.8,503.2 L347.2,505.1 L347.6,504.1 L347.9,504.7 L348.3,505.9 L348.6,507.4 L349.0,509.6 L349.3,512.0 L349.7,513.1 L350.0,515.3 L350.3,518.0 L350.6,520.9 L350.9,523.0 L351.2,525.2 L351.5,522.7 L351.8,520.9 L352.1,519.9 L352.4,518.0 L352.8,518.8 L353.1,519.9 L353.5,523.5 L353.8,525.1 L354.1,526.3 L354.5,523.9 L354.8,524.6 L355.1,524.7 L355.4,525.5 L355.8,525.1 L356.1,524.4 L356.4,525.9 L356.7,525.8 L357.1,528.3 L357.4,529.9 L357.7,530.7 L358.0,533.1 L358.4,535.5 L358.7,535.4 L359.1,536.5 L359.4,538.4 L359.8,540.1 L359.4,538.7 L359.1,537.0 L358.7,537.6 L359.1,542.6 L359.4,546.1 L359.8,550.0 L360.1,549.1 L360.4,547.1 L360.7,545.4 L361.0,542.7 L361.3,539.1 L361.7,539.4 L362.0,538.2 L362.3,538.6 L362.6,539.4 L362.9,540.4 L363.2,540.2 L363.6,540.7 L363.9,542.0 L364.2,543.1 L364.5,544.3 L364.8,545.0 L365.1,545.5 L365.5,547.8 L365.8,549.3 L366.2,550.4 L366.5,551.9 L366.9,554.0 L367.2,552.7 L367.6,551.6 L367.9,550.3 L368.3,549.1 L368.6,547.6 L368.9,545.5 L369.2,544.8 L369.6,544.3 L369.9,543.0 L370.2,541.2 L370.7,540.4 L371.0,539.3 L371.3,537.9 L371.6,538.2 L372.0,537.6 L372.3,538.2 L372.6,537.2 L372.9,535.5 L373.2,535.5 L373.5,536.4 L373.8,535.2 L374.1,533.6 L374.4,532.6 L374.7,532.5 L375.0,532.0 L375.3,531.1 L375.6,531.1 L375.9,529.0 L376.3,526.5 L376.6,524.6 L376.9,523.3 L377.2,521.3 L377.6,519.3 L377.9,516.7 L378.2,515.3 L378.6,514.6 L378.9,513.0 L379.3,512.4 L379.6,512.8 L379.9,513.3 L380.2,513.0 L380.5,514.8 L380.8,515.1 L381.1,514.4 L381.4,514.4 L381.7,516.1 L382.0,515.5 L382.3,516.1 L382.6,516.7 L382.9,516.6 L383.2,516.0 L383.5,516.8 L383.8,517.5 L384.1,518.6 L384.5,518.6 L384.8,518.0 L385.1,518.2 L385.4,518.0 L385.7,517.6 L386.0,517.2 L386.3,516.8 L386.6,517.1 L386.9,517.9 L387.3,519.4 L387.6,521.4 L388.0,522.3 L388.3,524.2 L388.7,524.2 L389.0,525.5 L389.4,527.4 L389.8,528.9 L390.1,527.8 L390.4,526.7 L390.8,524.9 L391.1,525.5 L391.5,524.6 L391.8,525.1 L392.1,524.2 L392.4,524.3 L392.7,523.3 L393.0,524.5 L393.3,525.3 L393.6,524.0 L393.9,524.6 L394.2,524.8 L394.5,523.1 L394.8,522.0 L395.1,521.6 L395.4,521.5 L395.7,520.7 L396.0,521.0 L396.3,521.1 L396.6,522.2 L397.0,523.0 L397.3,524.1 L397.6,524.8 L397.9,523.7 L398.2,523.9 L398.5,523.8 L398.8,523.9 L399.1,524.3 L399.4,524.4 L399.7,524.8 L400.0,523.5 L400.3,523.0 L400.6,523.5 L400.9,523.5 L401.2,523.4 L401.5,523.3 L401.8,522.6 L402.1,523.1 L402.4,523.0 L402.7,522.5 L403.0,521.7 L403.4,521.4 L403.7,519.5 L404.0,520.1 L404.3,521.2 L404.6,520.9 L404.9,522.0 L405.2,522.7 L405.5,522.2 L405.8,522.9 L406.1,523.3 L406.4,523.7 L406.7,524.0 L407.0,523.6 L407.3,522.8 L407.6,522.8 L407.9,522.8 L408.2,523.2 L408.5,523.1 L408.8,522.4 L409.1,521.7 L409.5,521.9 L409.8,521.8 L410.1,521.5 L410.4,521.9 L410.7,521.9 L411.0,522.3 L411.3,522.8 L411.6,522.5 L411.9,524.1 L412.2,523.2 L412.5,523.6 L412.8,523.0 L413.1,523.3 L413.4,521.1 L413.7,520.9 L414.0,521.4 L414.3,521.8 L414.6,523.1 L414.9,521.8 L415.2,521.4 L415.5,520.5 L415.9,519.7 L416.2,518.7 L416.5,517.4 L416.8,516.7 L417.1,515.0 L417.4,515.6 L417.7,514.4 L418.0,514.4 L418.3,515.5 L418.6,514.4 L418.9,513.9 L419.2,514.2 L419.5,513.5 L419.8,512.7 L420.1,513.0 L420.4,513.3 L420.7,513.6 L421.0,512.8 L421.3,514.0 L421.6,514.6 L422.0,513.9 L422.3,513.0 L422.6,511.8 L422.9,512.1 L423.2,510.6 L423.5,510.4 L423.8,509.2 L424.1,508.2 L424.4,508.3 L424.7,507.8 L425.0,506.1 L425.3,504.2 L425.6,503.6 L426.0,503.6 L426.3,504.0 L426.6,505.1 L427.0,505.5 L427.3,504.8 L427.6,505.1 L428.0,503.3 L428.3,502.4 L428.6,500.5 L428.9,499.4 L429.3,497.2 L429.6,498.0 L429.9,497.9 L430.2,495.7 L430.6,494.0 L430.9,492.6 L431.2,493.3 L431.5,491.8 L431.8,490.7 L432.1,489.4 L432.4,488.3 L432.8,493.8 L433.1,500.3 L433.4,505.6 L433.7,503.4 L434.0,501.2 L434.3,498.8 L434.6,495.8 L435.0,495.7 L435.3,496.4 L435.6,496.6 L435.9,498.3 L436.3,498.8 L436.6,498.7 L436.9,497.6 L437.2,496.6 L437.5,495.6 L437.8,495.1 L438.1,495.0 L438.4,494.9 L438.7,494.5 L439.0,495.1 L439.3,493.6 L439.6,493.1 L439.9,494.5 L440.2,492.1 L440.5,491.5 L440.9,491.5 L441.2,491.3 L441.5,491.3 L441.8,490.9 L442.1,491.1 L442.4,491.0 L442.7,491.3 L443.0,489.8 L443.3,489.5 L443.6,490.0 L443.9,489.5 L444.2,489.6 L444.5,491.0 L444.8,491.0 L445.1,492.1 L445.4,492.9 L445.7,493.2 L446.0,493.7 L446.3,493.7 L446.6,492.6 L447.0,492.8 L447.3,493.3 L447.6,492.9 L447.9,492.9 L448.2,493.4 L448.5,492.6 L448.8,493.1 L449.1,495.1 L449.4,495.1 L449.8,495.9 L450.1,496.6 L450.4,498.4 L450.7,499.1 L451.0,499.2 L451.3,498.1 L451.6,497.9 L452.0,497.7 L452.3,496.4 L452.6,497.7 L452.9,498.0 L453.2,496.4 L453.5,496.7 L453.8,496.1 L454.1,496.0 L454.5,495.6 L454.8,494.0 L455.1,493.8 L455.4,494.5 L455.8,493.4 L456.1,492.3 L456.4,491.3 L456.7,490.7 L457.0,491.1 L457.3,492.1 L457.6,491.6 L457.9,491.1 L458.2,491.9 L458.5,490.4 L458.8,489.5 L459.1,489.7 L459.5,489.8 L459.8,488.8 L460.1,488.0 L460.4,488.5 L460.7,488.7 L461.0,487.7 L461.3,488.0 L461.6,488.1 L461.9,488.8 L462.2,488.8 L462.5,488.9 L462.8,488.8 L463.1,489.8 L463.4,490.5 L463.7,489.9 L464.0,490.3 L464.3,489.6 L464.6,489.8 L464.9,490.1 L465.2,490.8 L465.5,489.9 L465.9,489.5 L466.2,489.5 L466.5,488.3 L466.8,488.6 L467.1,488.3 L467.4,488.7 L467.7,487.9 L468.0,486.9 L468.3,487.6 L468.6,487.4 L468.9,486.5 L469.2,486.5 L469.5,485.5 L469.8,484.3 L470.1,484.1 L470.4,482.2 L470.7,481.5 L471.0,481.0 L471.3,480.9 L471.6,479.7 L472.0,479.0 L472.3,477.6 L472.6,477.0 L472.9,477.1 L473.2,475.3 L473.5,475.8 L473.8,473.8 L474.1,472.7 L474.4,471.7 L474.7,471.4 L475.0,469.3 L475.3,467.2 L475.6,467.3 L475.9,467.3 L476.2,466.8 L476.5,467.5 L476.8,466.0 L477.1,464.8 L477.4,464.3 L477.7,463.3 L478.0,463.2 L478.4,460.7 L478.7,459.4 L479.0,456.1 L479.3,456.7 L479.6,455.7 L479.9,455.5 L480.2,455.8 L480.5,454.0 L480.8,452.2 L481.1,450.6 L481.4,448.9 L481.7,447.5 L482.0,447.1 L482.3,445.9 L482.6,444.7 L482.9,443.3 L483.3,442.1 L483.6,440.4 L483.9,438.2 L484.2,436.7 L484.6,434.5 L484.9,431.8 L485.2,431.1 L485.6,429.2 L485.9,426.3 L486.2,425.2 L486.6,423.2 L486.9,419.5 L487.3,418.5 L487.6,415.9 L488.0,413.8 L488.3,411.1 L488.6,407.7 L488.9,403.5 L489.2,401.5 L489.5,398.4 L489.9,393.9 L490.2,389.9 L490.6,403.9 L491.0,418.3 L491.3,422.7 L491.6,427.6 L492.0,431.0 L492.3,424.7 L492.6,418.9 L492.9,413.1 L493.2,405.8 L493.5,405.9 L493.9,407.3 L494.3,406.9 L494.6,407.5 L494.9,411.3 L495.2,413.8 L495.5,417.2 L495.9,419.3 L496.2,418.1 L496.5,416.7 L496.9,415.5 L497.2,414.9 L497.6,414.9 L497.9,413.4 L498.2,412.5 L498.5,412.6 L498.9,411.6 L499.2,412.0 L499.5,412.1 L499.8,411.4 L500.1,411.5 L500.4,410.0 L500.7,410.5 L501.0,409.2 L501.3,408.9 L501.6,408.7 L502.0,408.5 L502.3,410.0 L502.6,410.6 L502.9,410.9 L503.2,412.0 L503.5,413.5 L503.8,413.6 L504.1,414.1 L504.4,415.3 L504.7,415.4 L505.0,414.7 L505.3,416.9 L505.6,418.2 L505.9,416.4 L506.2,416.8 L506.5,417.6 L506.8,418.6 L507.1,419.1 L507.4,419.0 L507.7,418.7 L508.0,419.4 L508.4,420.6 L508.7,420.1 L509.0,420.1 L509.3,421.0 L509.6,421.8 L509.9,424.1 L510.2,426.1 L510.6,428.6 L510.9,430.1 L511.2,431.6 L511.6,429.6 L512.0,427.7 L512.3,425.4 L512.7,423.5 L513.0,424.0 L513.3,424.4 L513.6,424.9 L513.9,423.4 L514.2,422.8 L514.5,421.0 L514.8,422.7 L515.1,421.9 L515.4,421.8 L515.7,421.9 L516.0,420.7 L516.3,421.1 L516.6,420.9 L517.0,419.5 L517.3,420.0 L517.6,420.8 L517.9,419.2 L518.2,419.9 L518.5,419.9 L518.8,420.0 L519.1,420.0 L519.4,420.5 L519.7,419.6 L520.0,419.9 L520.3,418.8 L520.6,418.7 L520.9,417.4 L521.2,417.0 L521.5,417.8 L521.8,417.1 L522.1,416.2 L522.4,414.8 L522.7,413.9 L523.0,413.8 L523.4,414.0 L523.7,413.4 L524.0,412.9 L524.3,412.0 L524.6,412.2 L524.9,410.8 L525.2,410.5 L525.5,411.3 L525.8,411.2 L526.1,411.1 L526.4,410.9 L526.7,411.0 L527.0,411.8 L527.3,412.0 L527.6,410.9 L527.9,411.2 L528.2,411.2 L528.5,410.3 L528.8,410.8 L529.1,410.3 L529.5,409.9 L529.8,410.4 L530.1,411.3 L530.4,410.6 L530.7,411.0 L531.0,410.5 L531.3,412.4 L531.6,411.7 L531.9,412.5 L532.2,411.8 L532.6,413.2 L532.9,415.3 L533.3,413.8 L533.7,414.7 L534.0,413.4 L534.3,411.4 L534.7,409.0 L535.0,408.7 L535.4,406.3 L535.7,403.7 L536.0,403.3 L536.3,400.9 L536.6,400.9 L536.9,399.2 L537.2,398.2 L537.5,397.9 L537.8,396.4 L538.1,394.0 L538.4,392.0 L538.7,392.2 L539.0,391.4 L539.3,389.5 L539.6,388.9 L539.9,387.9 L540.2,386.8 L540.6,382.6 L540.9,380.4 L541.3,378.9 L541.6,376.9 L542.0,374.8 L542.3,369.7 L542.7,367.3 L543.0,364.8 L543.4,363.4 L543.7,358.4 L544.0,354.3 L544.3,350.7 L544.6,347.6 L544.9,344.4 L545.2,342.3 L545.5,338.7 L545.9,336.2 L546.2,335.3 L546.5,335.1 L546.9,334.2 L547.2,332.8 L547.6,333.7 L547.9,337.8 L548.2,341.3 L548.5,345.5 L548.8,350.2 L549.1,347.1 L549.4,345.0 L549.7,343.3 L550.0,341.4 L550.3,345.9 L550.6,349.4 L550.9,355.7 L551.2,360.7 L551.6,358.7 L551.9,356.5 L552.2,354.7 L552.6,352.5 L552.9,349.9 L553.3,348.4 L553.6,347.0 L553.9,345.6 L554.2,343.8 L554.6,343.3 L554.9,341.2 L555.2,342.4 L555.5,342.1 L555.8,342.9 L556.1,344.2 L556.4,344.3 L556.7,343.9 L557.0,344.3 L557.3,344.7 L557.6,343.8 L557.9,344.2 L558.2,345.1 L558.5,345.3 L558.8,345.9 L559.1,346.8 L559.5,347.5 L559.8,348.0 L560.1,347.8 L560.4,347.1 L560.7,346.8 L561.0,346.4 L561.3,346.1 L561.6,345.9 L561.9,344.7 L562.2,344.9 L562.5,346.1 L562.8,346.5 L563.1,347.6 L563.4,349.0 L563.7,349.6 L564.0,351.7 L564.3,350.2 L564.6,351.3 L564.9,351.0 L565.2,353.0 L565.5,355.4 L565.9,353.6 L566.2,354.7 L566.5,355.8 L566.8,356.1 L567.1,357.1 L567.4,355.1 L567.7,355.8 L568.0,355.6 L568.3,355.1 L568.6,354.2 L568.9,354.3 L569.2,353.4 L569.5,353.2 L569.8,353.3 L570.1,352.5 L570.4,353.6 L570.7,354.6 L571.0,355.7 L571.3,355.5 L571.6,356.1 L572.0,357.1 L572.3,357.4 L572.6,358.4 L572.9,359.6 L573.2,358.5 L573.5,357.3 L573.8,358.7 L574.1,360.0 L574.4,360.4 L574.7,361.3 L575.0,361.3 L575.3,361.7 L575.6,363.3 L575.9,363.5 L576.2,363.4 L576.5,364.3 L576.8,367.4 L577.2,369.5 L577.5,369.5 L577.9,370.0 L578.2,371.5 L578.5,372.2 L578.9,370.5 L579.3,367.5 L579.6,363.9 L580.0,362.3 L580.3,362.2 L580.6,363.0 L580.9,363.6 L581.2,364.0 L581.5,364.9 L581.8,365.0 L582.1,364.6 L582.4,364.4 L582.8,364.5 L583.1,365.0 L583.4,365.7 L583.7,366.1 L584.1,366.7 L584.4,366.7 L584.7,366.1 L585.0,365.9 L585.4,364.8 L585.7,364.9 L586.0,365.1 L586.3,364.9 L586.6,364.2 L586.9,363.4 L587.2,363.5 L587.5,362.6 L587.8,362.4 L588.1,361.7 L588.4,360.7 L588.7,360.6 L589.0,358.9 L589.3,357.8 L589.6,356.6 L589.9,355.5 L590.2,356.2 L590.5,356.8 L590.9,355.8 L591.2,355.5 L591.5,355.6 L591.8,355.3 L592.1,355.2 L592.4,353.4 L592.7,352.7 L593.0,353.7 L593.3,355.0 L593.6,355.1 L593.9,354.8 L594.2,355.1 L594.5,355.3 L594.8,355.5 L595.1,357.3 L595.4,356.4 L595.8,356.2 L596.1,357.4 L596.4,357.3 L596.7,356.5 L597.1,355.4 L597.4,355.3 L597.7,355.9 L598.0,355.5 L598.4,355.8 L598.7,355.2 L599.0,355.2 L599.3,354.7 L599.6,354.8 L600.0,355.5 L600.3,354.1 L600.6,354.2 L600.9,354.4 L601.2,354.0 L601.5,354.2 L601.9,355.1 L602.2,356.4 L602.5,356.4 L602.8,356.2 L603.1,355.0 L603.4,356.7 L603.8,356.5 L604.1,356.4 L604.4,355.8 L604.7,356.3 L605.0,356.1 L605.4,356.9 L605.7,357.7 L606.0,358.0 L606.3,358.5 L606.7,358.2 L607.0,359.6 L607.3,359.2 L607.6,358.5 L608.0,359.3 L608.3,359.6 L608.6,359.7 L608.9,360.4 L609.3,361.4 L609.6,361.2 L609.9,361.9 L610.2,363.5 L610.6,363.8 L610.9,363.5 L611.2,363.6 L611.5,363.5 L611.8,363.5 L612.1,364.1 L612.5,364.0 L612.8,362.5 L613.1,363.2 L613.4,363.1 L613.7,364.2 L614.0,364.2 L614.4,364.7 L614.7,366.4 L615.0,365.4 L615.3,364.9 L615.6,364.5 L616.0,363.8 L616.3,363.9 L616.6,365.5 L616.9,366.1 L617.2,365.9 L617.6,366.3 L617.9,368.1 L618.2,368.4 L618.5,369.1 L618.9,370.2 L619.2,371.7 L619.5,373.2 L619.8,373.2 L620.2,372.7 L620.5,372.5 L620.8,373.5 L621.1,373.8 L621.4,373.0 L621.8,373.0 L622.1,372.7 L622.4,372.2 L622.7,371.5 L623.0,370.5 L623.3,370.4 L623.6,370.1 L623.9,371.8 L624.3,372.5 L624.6,371.9 L624.9,373.4 L625.2,374.0 L625.5,372.7 L625.8,374.7 L626.1,375.3 L626.5,376.7 L626.8,375.5 L627.1,376.3 L627.4,376.8 L627.7,377.2 L628.0,376.6 L628.3,376.7 L628.7,374.9 L629.0,373.9 L629.3,373.0 L629.6,372.4 L630.0,371.5 L630.3,371.3 L630.7,370.6 L631.0,369.7 L631.4,369.6 L631.7,369.9 L632.0,371.1 L632.3,371.9 L632.6,372.0 L632.9,372.0 L633.2,373.3 L633.6,372.5 L633.9,372.8 L634.2,373.4 L634.5,372.7 L634.8,373.1 L635.1,372.0 L635.5,372.8 L635.8,373.0 L636.1,372.1 L636.4,373.3 L636.7,373.0 L637.0,374.4 L637.3,374.0 L637.7,374.3 L638.0,374.9 L638.3,375.0 L638.6,375.5 L638.9,375.5 L639.2,376.4 L639.6,376.6 L639.9,377.0 L640.2,375.4 L640.5,377.2 L640.8,377.6 L641.1,376.8 L641.4,377.7 L641.8,378.6 L642.1,379.6 L642.4,379.5 L642.8,381.5 L643.1,381.9 L643.5,384.2 L643.8,384.2 L644.2,385.7 L644.6,386.6 L644.9,387.2 L645.3,392.2 L645.7,396.7 L646.0,401.4 L646.5,398.5 L646.9,394.8 L647.3,391.0 L647.6,388.5 L647.9,386.0 L648.3,383.4 L648.6,385.6 L648.9,387.2 L649.2,388.3 L649.5,389.8 L649.8,391.0 L650.1,391.0 L650.4,391.2 L650.7,391.3 L651.0,390.3 L651.3,389.0 L651.7,390.2 L652.1,389.8 L652.4,390.2 L652.8,388.5 L653.1,388.3 L653.4,388.3 L653.7,387.2 L654.1,387.0 L654.4,387.6 L654.7,388.0 L655.0,388.4 L655.3,386.9 L655.6,385.4 L656.0,385.6 L656.3,385.8 L656.6,385.2 L656.9,383.7 L657.2,384.0 L657.5,384.0 L657.8,383.8 L658.2,382.9 L658.5,382.8 L658.8,383.0 L659.1,382.1 L659.4,380.6 L659.7,381.1 L660.1,382.1 L660.4,382.5 L660.7,383.4 L661.0,383.2 L661.3,383.6 L661.6,383.8 L661.9,384.7 L662.3,385.8 L662.6,385.4 L662.9,386.7 L663.2,387.2 L663.5,387.1 L663.8,387.0 L664.2,387.8 L664.5,387.1 L664.8,386.9 L665.1,386.3 L665.4,387.1 L665.7,388.2 L666.0,388.4 L666.4,388.5 L666.7,388.4 L667.0,388.7 L667.3,387.9 L667.6,389.3 L667.9,389.2 L668.2,388.9 L668.6,389.1 L668.9,388.9 L669.2,389.8 L669.6,390.5 L669.9,389.2 L670.2,390.0 L670.6,390.4 L670.9,389.6 L671.2,388.6 L671.5,388.5 L671.9,388.4 L672.2,389.0 L672.5,388.8 L672.8,387.6 L673.1,388.4 L673.4,387.6 L673.8,388.8 L674.1,388.0 L674.4,388.0 L674.7,388.0 L675.0,388.2 L675.4,389.5 L675.7,390.0 L676.0,390.1 L676.3,390.0 L676.6,388.8 L677.0,388.8 L677.3,388.9 L677.6,388.7 L677.9,389.6 L678.3,389.4 L678.6,389.3 L678.9,389.1 L679.3,388.4 L679.6,389.7 L679.9,390.8 L680.3,390.6 L680.6,389.7 L680.9,388.0 L681.3,388.9 L681.6,390.0 L681.9,390.0 L682.3,390.3 L682.6,390.6 L682.9,390.4 L683.2,389.1 L683.5,389.2 L683.8,389.0 L684.2,387.2 L684.5,386.8 L684.8,385.8 L685.1,385.9 L685.4,386.3 L685.8,385.3 L686.1,384.0 L686.4,385.3 L686.7,385.3 L687.0,385.8 L687.3,384.2 L687.6,384.4 L688.0,384.8 L688.3,384.8 L688.6,383.0 L688.9,382.1 L689.2,381.0 L689.5,380.9 L689.9,381.5 L690.2,381.4 L690.5,380.5 L690.8,381.5 L691.1,381.4 L691.4,382.2 L691.7,382.6 L692.1,383.6 L692.4,383.9 L692.7,383.0 L693.0,383.1 L693.3,384.1 L693.6,383.3 L694.0,383.4 L694.3,384.2 L694.6,384.8 L694.9,384.7 L695.2,383.5 L695.5,383.1 L695.8,383.9 L696.2,384.5 L696.5,386.6 L696.8,385.8 L697.1,386.8 L697.4,387.4 L697.7,386.3 L698.1,386.5 L698.4,387.4 L698.7,388.7 L699.1,390.3 L699.5,392.3 L699.8,391.0 L700.2,390.9 L700.5,389.8 L700.9,389.0 L701.2,388.9 L701.6,388.6 L701.9,389.1 L702.2,390.2 L702.5,389.8 L702.8,389.6 L703.1,390.0 L703.4,389.6 L703.8,390.3 L704.1,389.2 L704.4,389.9 L704.8,389.5 L705.1,389.2 L705.4,390.7 L705.8,389.8 L706.1,391.1 L706.4,390.9 L706.8,391.2 L707.1,389.8 L707.4,390.3 L707.7,390.7 L708.1,389.9 L708.4,389.3 L708.7,390.6 L709.1,389.7 L709.4,388.7 L709.7,387.9 L710.0,388.1 L710.3,388.0 L710.7,387.7 L711.0,388.4 L711.3,387.4 L711.6,387.2 L711.9,387.5 L712.2,385.8 L712.6,385.9 L712.9,386.3 L713.2,384.3 L713.5,383.1 L713.8,382.3 L714.1,380.5 L714.4,380.5 L714.7,378.5 L715.1,378.4 L715.4,378.5 L715.7,375.6 L716.1,374.2 L716.4,371.6 L716.8,371.3 L717.1,369.4 L717.4,371.1 L717.7,372.9 L718.1,375.0 L718.4,376.2 L718.7,377.8 L719.0,377.2 L719.4,377.3 L719.7,376.3 L720.1,376.5 L720.4,375.2 L720.8,375.2 L721.1,376.5 L721.4,375.8 L721.7,374.4 L722.0,374.4 L722.3,373.1 L722.7,371.7 L723.0,371.3 L723.4,371.6 L723.8,371.3 L724.1,370.5 L724.5,369.1 L724.8,367.9 L725.2,368.5 L725.5,367.8 L725.8,366.7 L726.1,365.1 L726.4,364.6 L726.8,366.7 L727.1,365.3 L727.4,365.6 L727.7,366.0 L728.0,366.1 L728.3,366.1 L728.6,365.5 L729.0,365.4 L729.3,367.2 L729.6,366.6 L729.9,367.4 L730.2,366.2 L730.5,366.5 L730.8,367.1 L731.2,367.9 L731.5,367.0 L731.8,367.5 L732.1,367.5 L732.4,366.8 L732.7,367.1 L733.0,366.3 L733.4,367.1 L733.7,368.6 L734.1,368.1 L734.4,370.0 L734.8,371.0 L735.1,370.5 L735.4,370.8 L735.7,371.7 L736.1,371.3 L736.4,372.2 L736.7,371.0 L737.0,370.1 L737.4,372.1 L737.7,372.6 L738.1,373.4 L738.4,372.9 L738.8,373.9 L739.1,373.5 L739.4,373.5 L739.7,372.9 L740.0,373.2 L740.3,372.0 L740.7,371.0 L741.0,369.9 L741.3,370.9 L741.6,369.9 L741.9,369.1 L742.2,368.5 L742.5,368.3 L742.9,367.4 L743.2,367.4 L743.5,367.5 L743.8,367.7 L744.1,367.5 L744.4,368.1 L744.8,368.2 L745.1,368.6 L745.4,369.0 L745.7,369.4 L746.0,368.0 L746.3,368.4 L746.6,368.5 L747.0,369.7 L747.3,368.9 L747.6,369.1 L747.9,369.3 L748.3,369.3 L748.6,370.2 L748.9,369.7 L749.2,370.3 L749.6,369.0 L749.9,368.0 L750.2,369.4 L750.5,369.7 L750.8,369.8 L751.1,369.7 L751.4,369.8 L751.7,368.7 L752.0,369.5 L752.3,369.0 L752.7,369.7 L753.0,369.4 L753.3,368.0 L753.6,367.6 L753.9,368.8 L754.2,368.6 L754.5,368.3 L754.8,368.5 L755.1,368.1 L755.5,367.8 L755.8,367.9 L756.1,368.0 L756.4,368.9 L756.8,368.2 L757.1,368.9 L757.4,369.1 L757.7,369.0 L758.1,368.4 L758.4,367.4 L758.7,366.7 L759.1,366.0 L759.4,365.4 L759.7,365.6 L760.0,365.3 L760.3,366.6 L760.6,366.7 L760.9,366.1 L761.2,364.8 L761.5,365.3 L761.8,365.4 L762.1,365.0 L762.4,364.8 L762.7,364.0 L763.0,365.4 L763.3,365.8 L763.6,367.8 L763.9,367.2 L764.2,366.8 L764.5,367.7 L764.8,367.3 L765.1,367.2 L765.4,366.8 L765.7,366.4 L766.0,366.5 L766.4,365.7 L766.8,365.2 L767.1,363.1 L767.5,361.7 L767.8,360.1 L768.1,360.0 L768.4,358.0 L768.7,357.7 L769.0,357.6 L769.3,357.3 L769.6,355.2 L769.9,355.0 L770.2,353.3 L770.6,351.9 L770.9,350.2 L771.2,350.4 L771.5,350.3 L771.9,348.3 L772.2,349.0 L772.5,350.3 L772.8,353.4 L773.1,354.8 L773.4,355.1 L773.7,353.2 L774.0,352.6 L774.3,353.3 L774.7,353.9 L775.0,352.6 L775.3,352.0 L775.6,351.9 L775.9,350.9 L776.2,352.3 L776.5,351.8 L776.9,353.0 L777.2,351.9 L777.5,351.5 L777.8,352.2 L778.1,351.9 L778.4,352.7 L778.8,352.6 L779.1,351.8 L779.4,352.4 L779.7,353.2 L780.0,351.8 L780.3,353.6 L780.6,353.8 L781.0,354.1 L781.3,352.7 L781.6,352.7 L781.9,354.0 L782.3,356.1 L782.6,356.1 L783.0,357.0 L783.4,357.2 L783.7,357.6 L784.0,358.1 L784.3,357.0 L784.6,356.9 L784.9,357.5 L785.2,358.4 L785.6,358.2 L785.9,357.7 L786.2,356.9 L786.6,356.6 L786.9,356.7 L787.2,357.3 L787.5,357.5 L787.9,358.8 L788.2,358.7 L788.5,357.4 L788.8,358.3 L789.2,358.3 L789.5,357.6 L789.8,356.6 L790.1,355.2 L790.4,354.9 L790.8,355.8 L791.1,355.2 L791.4,354.6 L791.7,355.4 L792.0,355.8 L792.4,356.4 L792.7,356.7 L793.0,357.5 L793.3,356.4 L793.6,357.1 L794.0,356.2 L794.3,356.7 L794.6,356.5 L794.9,356.5 L795.3,356.9 L795.6,356.4 L795.9,356.9 L796.3,356.9 L796.6,356.5 L796.9,355.6 L797.3,355.0 L797.6,354.7 L797.9,354.7 L798.3,354.8 L798.6,356.7 L798.9,356.2 L799.2,355.9 L799.6,354.7 L799.9,354.0 L800.2,353.9 L800.5,354.1 L800.8,353.3 L801.2,354.6 L801.5,353.8 L801.8,354.4 L802.1,352.4 L802.4,352.6 L802.8,352.7 L803.1,352.5 L803.4,352.5 L803.7,352.1 L804.0,351.7 L804.4,349.9 L804.7,349.6 L805.0,348.1 L805.3,349.4 L805.7,349.9 L806.0,349.8 L806.3,349.4 L806.6,349.2 L807.0,350.7 L807.3,351.4 L807.6,350.6 L808.0,350.9 L808.3,349.1 L808.6,347.9 L809.0,348.0 L809.3,347.8 L809.6,347.8 L810.0,348.2 L810.3,350.2 L810.6,348.9 L810.9,348.6 L811.2,348.5 L811.6,348.3 L811.9,348.7 L812.2,349.4 L812.5,347.8 L812.8,347.8 L813.2,347.5 L813.5,347.6 L813.8,346.4 L814.1,345.5 L814.4,344.5 L814.7,345.8 L815.0,346.2 L815.3,346.3 L815.6,344.7 L815.9,345.0 L816.2,344.9 L816.5,344.3 L816.8,343.5 L817.2,343.7 L817.5,343.3 L817.9,342.4 L818.2,341.8 L818.5,340.3 L818.9,339.6 L819.2,338.8 L819.5,338.2 L819.8,337.1 L820.1,336.1 L820.4,335.1 L820.8,336.9 L821.1,340.7 L821.4,342.6 L821.7,344.5 L822.0,347.8 L822.3,347.3 L822.6,345.0 L822.9,344.9 L823.2,344.8 L823.6,345.1 L823.9,344.8 L824.2,344.0 L824.5,342.2 L824.8,341.3 L825.1,341.4 L825.5,341.5 L825.8,340.4 L826.1,340.1 L826.4,339.8 L826.7,339.6 L827.0,339.4 L827.3,338.7 L827.7,337.5 L828.0,338.3 L828.3,338.7 L828.6,337.6 L828.9,337.8 L829.2,337.5 L829.6,337.4 L829.9,337.2 L830.2,336.2 L830.5,336.4 L830.8,336.7 L831.1,335.3 L831.4,336.2 L831.8,336.5 L832.1,336.3 L832.4,336.1 L832.7,334.9 L833.0,333.4 L833.3,332.3 L833.7,331.3 L834.0,331.3 L834.3,330.9 L834.6,331.1 L834.9,329.2 L835.2,330.8 L835.5,332.6 L835.9,332.4 L836.2,333.0 L836.5,333.6 L836.8,334.1 L837.1,334.3 L837.4,334.8 L837.8,335.4 L838.1,336.8 L838.5,338.0 L838.9,339.4 L839.2,339.8 L839.5,339.2 L839.9,338.4 L840.2,337.9 L840.5,336.1 L840.9,335.7 L841.2,335.4 L841.5,335.2 L841.8,334.3 L842.1,333.6 L842.5,333.2 L842.8,333.5 L843.1,334.1 L843.4,333.1 L843.7,332.2 L844.0,332.3 L844.4,332.1 L844.7,331.1 L845.0,330.6 L845.3,330.6 L845.6,331.0 L846.0,329.9 L846.3,329.3 L846.6,329.5 L846.9,328.2 L847.2,328.0 L847.5,327.8 L847.8,327.1 L848.2,325.9 L848.5,325.5 L848.8,324.7 L849.1,324.4 L849.4,323.0 L849.7,323.2 L850.1,321.1 L850.4,320.6 L850.7,320.1 L851.0,320.1 L851.3,318.7 L851.6,318.3 L851.9,317.1 L852.3,316.9 L852.6,317.0 L852.9,315.4 L853.2,314.4 L853.5,312.4 L853.8,312.1 L854.1,311.6 L854.4,310.0 L854.8,308.4 L855.1,308.2 L855.4,308.3 L855.7,308.0 L856.0,307.4 L856.3,305.1 L856.6,304.2 L857.0,304.8 L857.4,303.0 L857.7,303.2 L858.1,303.5 L858.4,302.5 L858.8,303.4 L859.1,303.3 L859.5,303.0 L859.8,303.9 L860.2,304.7 L860.5,304.8 L860.8,305.3 L861.1,305.1 L861.4,305.2 L861.8,305.4 L862.1,305.2 L862.4,306.3 L862.7,306.3 L863.0,306.2 L863.3,306.1 L863.6,306.0 L864.0,307.3 L864.3,307.4 L864.6,306.8 L864.9,306.8 L865.2,307.2 L865.5,307.3 L865.8,308.5 L866.1,307.8 L866.5,310.5 L866.9,312.8 L867.2,314.2 L867.6,312.6 L867.9,310.7 L868.3,309.1 L868.7,306.8 L869.0,305.1 L869.3,303.5 L869.6,302.8 L869.9,303.5 L870.2,303.8 L870.6,303.1 L870.9,301.5 L871.2,301.2 L871.5,298.4 L871.8,297.3 L872.1,297.1 L872.5,296.3 L872.8,294.1 L873.2,291.8 L873.5,292.1 L873.9,290.8 L874.2,289.7 L874.5,289.5 L874.8,289.7 L875.1,287.3 L875.4,288.2 L875.8,288.2 L876.1,286.2 L876.4,286.7 L876.7,285.2 L877.0,286.0 L877.3,285.7 L877.6,286.6 L878.0,285.0 L878.3,284.3 L878.6,285.3 L879.0,284.9 L879.3,284.9 L879.7,285.3 L880.0,285.9 L880.4,287.3 L880.7,290.0 L881.0,292.4 L881.3,294.4 L881.6,297.4 L881.9,296.2 L882.2,296.4 L882.5,295.1 L882.8,295.0 L883.1,293.0 L883.5,292.9 L883.8,292.3 L884.2,291.5 L884.5,290.6 L884.9,290.0 L885.2,289.1 L885.5,287.2 L885.8,286.9 L886.2,286.4 L886.5,285.7 L886.8,284.7 L887.1,284.4 L887.5,284.1 L887.8,282.8 L888.2,281.4 L888.5,281.4 L888.9,280.6 L889.2,280.3 L889.5,280.0 L889.8,278.7 L890.1,277.9 L890.5,278.1 L890.8,276.9 L891.1,276.3 L891.4,276.1 L891.7,275.7 L892.0,274.9 L892.3,275.1 L892.7,274.2 L893.0,274.1 L893.3,274.0 L893.6,273.1 L893.9,272.2 L894.2,270.1 L894.5,268.5 L894.8,267.6 L895.2,270.6 L895.6,273.8 L895.9,274.9 L896.3,272.6 L896.7,269.5 L897.0,266.7 L897.4,266.0 L897.7,265.8 L898.0,265.0 L898.3,264.8 L898.6,262.9 L898.9,262.0 L899.3,260.8 L899.6,258.9 L900.0,257.5 L900.4,255.3 L900.7,252.4 L901.1,250.2 L901.4,247.9 L901.8,247.9 L902.1,244.8 L902.5,243.4 L902.9,240.7 L903.2,238.3 L903.5,238.0 L903.8,236.6 L904.2,236.6 L904.5,236.1 L904.8,234.3 L905.1,238.9 L905.5,243.0 L905.9,247.0 L906.2,247.4 L906.5,246.1 L906.8,245.7 L907.1,245.5 L907.4,244.1 L907.8,244.1 L908.1,242.0 L908.5,240.5 L908.8,240.5 L909.2,239.0 L909.5,240.9 L909.9,241.6 L910.2,243.8 L910.6,244.9 L910.9,247.2 L911.3,247.5 L911.6,249.4 L911.9,250.5 L912.2,251.8 L912.5,253.0 L912.8,253.3 L913.1,252.7 L913.4,251.6 L913.7,252.8 L914.0,253.0 L914.4,254.3 L914.7,256.2 L915.0,256.1 L915.4,257.3 L915.7,260.0 L916.0,262.2 L916.3,265.4 L916.6,268.0 L916.9,270.0 L917.2,267.5 L917.5,266.3 L917.8,263.7 L918.1,262.1 L918.5,260.1 L918.8,257.6 L919.2,256.3 L919.5,255.7 L919.9,255.2 L920.2,254.6 L920.5,255.1 L920.9,255.6 L921.2,255.0 L921.5,254.9 L921.8,255.5 L922.1,255.2 L922.4,256.0 L922.8,254.2 L923.1,254.5 L923.5,253.9 L923.8,252.2 L924.2,253.0 L924.5,254.4 L924.8,255.4 L925.1,255.8 L925.4,256.9 L925.7,259.3 L926.0,259.3 L926.4,258.0 L926.7,259.4 L927.0,260.4 L927.3,262.0 L927.6,262.9 L928.0,263.3 L928.3,263.9 L928.7,265.8 L929.1,265.5 L929.4,268.2 L929.8,268.6 L930.1,269.0 L930.5,270.9 L930.8,272.3 L931.1,271.0 L931.4,271.2 L931.7,269.5 L932.1,268.9 L932.4,269.8 L932.7,268.4 L933.0,266.5 L933.3,266.2 L933.6,265.8 L933.9,264.4 L934.3,262.5 L934.6,262.0 L935.0,262.0 L935.3,261.9 L935.7,262.3 L936.0,261.2 L936.3,260.4 L936.6,260.2 L936.9,260.7 L937.3,259.6 L937.6,260.3 L937.9,257.9 L938.2,259.4 L938.5,259.5 L938.8,260.4 L939.1,261.2 L939.5,260.7 L939.8,261.2 L940.1,261.9 L940.4,262.8 L940.7,262.5 L941.0,262.5 L941.3,262.1 L941.7,265.0 L942.0,265.0 L942.3,265.3 L942.6,264.8 L942.9,266.3 L943.2,266.4 L943.6,267.9 L943.9,268.6 L944.2,268.6 L944.5,269.3 L944.8,268.4 L945.1,268.5 L945.4,268.5 L945.8,268.1 L946.1,268.7 L946.4,269.1 L946.7,270.4 L947.0,268.5 L947.3,269.5 L947.7,270.2 L948.0,271.1 L948.3,272.5 L948.6,273.5 L948.9,274.2 L949.2,274.1 L949.5,274.8 L949.8,275.2 L950.1,274.1 L950.5,274.6 L950.8,274.3 L951.1,274.4 L951.4,275.4 L951.7,275.2 L952.0,274.8 L952.3,273.7 L952.6,273.2 L952.9,272.2 L953.2,272.2 L953.5,272.9 L953.8,274.1 L954.2,274.4 L954.5,273.4 L954.8,273.1 L955.1,272.7 L955.4,272.1 L955.7,272.4 L956.0,271.2 L956.3,268.2 L956.6,266.7 L956.9,265.3 L957.3,265.9 L957.6,265.6 L957.9,265.5 L958.2,266.2 L958.6,266.3 L959.0,266.8 L959.4,269.5 L959.7,270.4 L960.0,270.3 L960.4,269.8 L960.7,270.2 L961.0,270.2 L961.3,272.2 L961.6,273.6 L961.9,274.4 L962.2,274.2 L962.5,273.6 L962.8,273.2 L963.1,274.7 L963.5,273.0 L963.8,273.1 L964.1,272.9 L964.4,272.9 L964.7,272.2 L965.0,272.2 L965.3,272.2 L965.7,271.2 L966.1,270.2 L966.4,269.6 L966.8,268.5 L967.1,269.5 L967.4,270.3 L967.7,271.4 L968.0,273.0 L968.3,274.3 L968.7,274.2 L969.0,274.2 L969.3,273.9 L969.6,274.0 L969.9,273.4 L970.2,273.2 L970.6,272.5 L970.9,271.9 L971.2,272.6 L971.5,273.3 L971.8,273.2 L972.2,273.0 L972.5,272.8 L972.8,272.2 L973.1,270.9 L973.4,272.0 L973.7,272.3 L974.0,272.0 L974.3,271.6 L974.6,272.9 L974.9,271.7 L975.2,273.3 L975.5,273.6 L975.8,274.8 L976.2,273.5 L976.5,273.2 L976.8,272.7 L977.1,272.9 L977.4,272.8 L977.7,272.4 L978.0,273.4 L978.3,272.7 L978.6,272.6 L978.9,273.2 L979.2,272.9 L979.6,272.9 L979.9,273.4 L980.2,273.2 L980.5,272.6 L980.8,273.1 L981.1,273.3 L981.4,274.5 L981.7,273.4 L982.0,274.1 L982.3,273.3 L982.7,273.2 L983.0,273.1 L983.3,273.4 L983.6,273.9 L983.9,274.8 L984.3,275.1 L984.6,277.2 L985.0,278.8 L985.4,280.1 L985.7,281.2 L986.0,283.8 L986.4,285.5 L986.7,287.7 L987.0,287.6 L987.3,288.2 L987.7,289.0 L988.0,289.5 L988.4,290.0 L988.7,291.5 L989.1,293.2 L989.5,293.1 L989.8,294.6 L990.2,294.0 L990.6,295.2 L991.0,296.2 L991.3,297.4 L991.6,297.5 L991.9,297.2 L992.3,297.1 L992.6,294.4 L992.9,293.3 L993.2,291.1 L993.6,288.6 L993.9,289.9 L994.3,290.1 L994.7,290.7 L995.0,291.3 L995.4,292.2 L995.8,292.4 L996.2,291.2 L996.5,289.4 L996.8,290.1 L997.1,290.3 L997.5,290.7 L997.8,291.2 L998.1,290.9 L998.4,291.6 L998.7,292.3 L999.0,292.4 L999.3,292.3 L999.6,292.4 L999.9,293.3 L1000.2,292.9 L1000.6,293.1 L1000.9,292.9 L1001.2,292.5 L1001.5,293.5 L1001.8,293.8 L1002.2,294.0 L1002.5,294.7 L1002.8,293.7 L1003.1,294.2 L1003.4,294.8 L1003.8,295.5 L1004.1,294.8 L1004.4,295.7 L1004.7,295.9 L1005.0,296.3 L1005.3,296.3 L1005.6,295.7 L1005.9,296.3 L1006.2,295.0 L1006.5,293.9 L1006.8,293.2 L1007.1,292.2 L1007.4,292.0 L1007.7,290.4 L1008.1,290.5 L1008.4,290.6 L1008.7,290.8 L1009.0,289.8 L1009.3,291.0 L1009.6,290.4 L1009.9,290.6 L1010.2,289.7 L1010.5,290.1 L1010.8,290.4 L1011.1,291.8 L1011.5,291.9 L1011.8,290.9 L1012.1,291.3 L1012.4,291.5 L1012.7,291.1 L1013.0,290.9 L1013.3,290.5 L1013.6,290.1 L1013.9,289.0 L1014.2,289.4 L1014.6,290.5 L1014.9,291.1 L1015.2,290.3 L1015.5,289.5 L1015.8,289.4 L1016.1,289.9 L1016.4,289.8 L1016.7,289.2 L1017.0,289.3 L1017.3,287.7 L1017.6,286.7 L1017.9,284.9 L1018.3,282.6 L1018.6,282.6 L1018.9,282.9 L1019.2,281.6 L1019.5,281.3 L1019.8,281.6 L1020.1,280.7 L1020.4,280.3 L1020.8,281.7 L1021.1,281.7 L1021.4,281.8 L1021.7,280.6 L1022.0,281.5 L1022.3,279.9 L1022.6,279.7 L1022.9,280.3 L1023.2,281.0 L1023.5,279.9 L1023.8,279.4 L1024.2,279.4 L1024.5,278.0 L1024.8,278.6 L1025.1,278.8 L1025.4,278.1 L1025.7,278.2 L1026.0,277.5 L1026.4,276.2 L1026.7,275.1 L1027.0,274.7 L1027.4,272.1 L1027.8,270.4 L1028.1,268.3 L1028.5,267.4 L1028.9,266.4 L1029.2,266.3 L1029.6,265.7 L1030.0,265.2 L1030.3,266.6 L1030.6,266.5 L1031.0,267.6 L1031.3,268.0 L1031.6,267.4 L1031.9,265.7 L1032.3,265.0 L1032.6,264.2 L1033.0,264.6 L1033.3,265.9 L1033.7,266.9 L1034.0,266.6 L1034.3,267.2 L1034.7,266.2 L1035.0,264.9 L1035.3,263.1 L1035.6,262.4 L1036.0,261.4 L1036.3,260.7 L1036.7,259.8 L1037.0,259.3 L1037.4,257.4 L1037.7,255.5 L1038.1,252.9 L1038.4,251.4 L1038.7,250.2 L1039.0,252.5 L1039.3,252.5 L1039.6,255.1 L1040.0,255.3 L1040.3,254.7 L1040.6,252.6 L1040.9,252.1 L1041.2,252.2 L1041.5,251.9 L1041.9,250.7 L1042.2,252.2 L1042.6,255.0 L1043.0,255.9 L1043.3,257.8 L1043.6,258.3 L1044.0,259.1 L1044.3,258.8 L1044.6,258.0 L1044.9,258.1 L1045.3,256.4 L1045.6,257.4 L1046.0,256.9 L1046.3,257.0 L1046.7,258.2 L1047.1,259.4 L1047.5,258.3 L1047.8,256.2 L1048.2,254.4 L1048.6,252.7 L1048.9,252.4 L1049.2,250.9 L1049.5,252.2 L1049.9,252.5 L1050.2,253.4 L1050.5,253.8 L1050.8,254.9 L1051.2,255.7 L1051.5,255.9 L1051.9,256.8 L1052.3,255.7 L1052.7,256.4 L1053.0,256.3 L1053.4,256.9 L1053.8,258.6 L1054.1,258.1 L1054.5,257.9 L1054.8,257.4 L1055.1,257.9 L1055.4,256.8 L1055.7,255.7 L1056.0,256.2 L1056.3,256.3 L1056.6,256.3 L1057.0,257.2 L1057.3,256.5 L1057.6,256.5 L1057.9,256.8 L1058.2,257.2 L1058.5,257.0 L1058.8,258.0 L1059.2,259.4 L1059.5,258.7 L1059.8,259.8 L1060.1,258.0 L1060.4,261.3 L1060.7,263.0 L1061.0,265.2 L1061.3,265.0 L1061.6,264.7 L1061.9,264.2 L1062.3,264.5 L1062.6,265.8 L1062.9,266.5 L1063.2,265.6 L1063.5,264.9 L1063.8,264.3 L1064.1,263.5 L1064.4,264.9 L1064.7,264.8 L1065.0,264.8 L1065.4,264.6 L1065.7,264.3 L1066.0,265.8 L1066.3,266.4 L1066.6,265.7 L1066.9,266.9 L1067.2,266.4 L1067.6,267.5 L1067.9,267.3 L1068.3,264.8 L1068.6,262.8 L1069.0,260.6 L1069.3,261.2 L1069.6,260.4 L1069.9,261.5 L1070.2,262.0 L1070.6,261.4 L1070.9,261.4 L1071.2,261.0 L1071.5,261.4 L1071.8,261.0 L1072.1,261.9 L1072.4,262.6 L1072.7,263.9 L1073.0,264.6 L1073.4,265.1 L1073.7,264.9 L1074.0,265.1 L1074.4,265.5 L1074.7,266.4 L1075.0,265.9 L1075.3,267.6 L1075.7,267.1 L1076.1,267.6 L1076.4,268.4 L1076.8,268.7 L1077.1,269.9 L1077.4,269.4 L1077.7,270.2 L1078.1,270.3 L1078.4,269.3 L1078.7,269.2 L1079.0,270.3 L1079.3,270.0 L1079.6,270.4 L1079.9,270.4 L1080.2,271.0 L1080.5,271.2 L1080.9,270.9 L1081.3,271.1 L1081.6,271.3 L1082.0,270.4 L1082.3,270.2 L1082.6,270.6 L1082.9,270.1 L1083.3,269.4 L1083.6,270.4 L1083.9,269.7 L1084.2,269.9 L1084.5,268.6 L1084.8,269.4 L1085.1,267.8 L1085.4,267.8 L1085.7,268.0 L1086.0,266.3 L1086.4,266.6 L1086.7,265.0 L1087.0,263.3 L1087.3,263.6 L1087.6,263.5 L1087.9,263.0 L1088.2,261.2 L1088.5,261.6 L1088.8,261.6 L1089.1,261.4 L1089.4,261.3 L1089.8,260.2 L1090.1,260.2 L1090.4,261.6 L1090.7,262.1 L1091.0,261.1 L1091.3,260.2 L1091.6,260.2 L1091.9,260.5 L1092.2,260.3 L1092.5,258.9 L1092.9,258.8 L1093.2,258.6 L1093.5,259.2 L1093.8,259.3 L1094.1,258.8 L1094.4,258.8 L1094.7,257.7 L1095.0,258.2 L1095.3,257.5 L1095.6,257.7 L1096.0,258.1 L1096.3,257.3 L1096.6,257.0 L1096.9,256.2 L1097.2,257.8 L1097.5,259.0 L1097.9,259.9 L1098.2,261.4 L1098.5,260.2 L1098.8,261.0 L1099.2,261.6 L1099.5,261.9 L1099.9,263.4 L1100.2,265.3 L1100.6,265.4 L1101.0,265.6 L1101.3,271.2 L1101.6,277.4 L1101.9,283.8 L1102.2,282.5 L1102.5,282.7 L1102.8,281.3 L1103.1,280.2 L1103.4,278.4 L1103.8,276.7 L1104.1,277.3 L1104.4,276.0 L1104.7,275.1 L1105.1,274.8 L1105.4,274.6 L1105.8,273.0 L1106.2,272.8 L1106.5,271.9 L1106.9,272.2 L1107.3,272.7 L1107.7,272.0 L1108.0,271.4 L1108.3,271.3 L1108.7,269.2 L1109.0,270.4 L1109.3,270.9 L1109.6,270.8 L1109.9,270.4 L1110.2,270.2 L1110.5,270.5 L1110.8,271.6 L1111.1,271.4 L1111.4,272.3 L1111.8,270.4 L1112.1,269.2 L1112.4,268.4 L1112.7,267.1 L1113.1,264.8 L1113.4,264.0 L1113.7,264.3 L1114.0,262.4 L1114.4,261.2 L1114.7,260.0 L1115.1,259.3 L1115.5,259.3 L1115.8,258.8 L1116.2,258.3 L1116.6,260.7 L1117.0,261.1 L1117.3,261.7 L1117.7,262.3 L1118.0,261.2 L1118.3,259.6 L1118.6,258.7 L1118.9,258.7 L1119.2,258.5 L1119.6,258.9 L1119.9,259.9 L1120.2,260.2 L1120.5,259.3 L1120.8,261.1 L1121.1,259.6 L1121.4,259.4 L1121.7,259.1 L1122.0,259.3 L1122.3,258.6 L1122.7,259.1 L1123.0,260.6 L1123.3,260.3 L1123.6,259.5 L1123.9,260.1 L1124.2,259.9 L1124.5,260.0 L1124.8,260.4 L1125.1,260.8 L1125.4,260.7 L1125.7,261.4 L1126.0,261.2 L1126.3,260.4 L1126.6,261.4 L1126.9,261.2 L1127.3,262.1 L1127.6,261.5 L1127.9,261.9 L1128.2,262.1 L1128.5,260.3 L1128.8,260.1 L1129.2,260.1 L1129.5,261.7 L1129.8,260.5 L1130.1,261.5 L1130.4,262.2 L1130.7,262.1 L1131.0,262.2 L1131.3,261.5 L1131.6,261.3 L1131.9,261.3 L1132.3,261.3 L1132.6,261.5 L1132.9,260.9 L1133.2,260.2 L1133.5,259.8 L1133.8,259.5 L1134.1,257.8 L1134.4,256.7 L1134.7,256.2 L1135.0,255.6 L1135.4,255.0 L1135.7,252.8 L1136.0,252.5 L1136.3,252.0 L1136.6,252.8 L1136.9,251.4 L1137.2,251.6 L1137.5,252.1 L1137.8,252.3 L1138.1,252.8 L1138.4,253.0 L1138.8,251.8 L1139.1,252.1 L1139.4,251.6 L1139.7,251.0 L1140.0,252.1 L1140.3,251.6 L1140.6,251.3 L1140.9,251.4 L1141.2,251.3 L1141.5,252.5 L1141.9,252.9 L1142.2,253.5 L1142.5,253.2 L1142.8,252.3 L1143.1,252.9 L1143.4,252.1 L1143.7,251.7 L1144.0,253.3 L1144.3,255.0 L1144.6,257.3 L1145.0,256.8 L1145.3,257.2 L1145.6,257.2 L1145.9,256.5 L1146.2,256.3 L1146.5,256.8 L1146.8,257.2 L1147.1,257.2 L1147.4,257.3 L1147.7,256.9 L1148.1,256.3 L1148.4,256.4 L1148.7,255.8 L1149.0,255.3 L1149.3,255.6 L1149.6,255.2 L1149.9,255.5 L1150.2,255.6 L1150.5,255.5 L1150.8,255.6 L1151.1,255.1 L1151.5,254.9 L1151.8,253.9 L1152.1,254.4 L1152.4,254.1 L1152.7,254.8 L1153.0,253.0 L1153.3,253.3 L1153.6,254.1 L1153.9,252.9 L1154.2,252.9 L1154.6,252.9 L1154.9,252.6 L1155.2,251.2 L1155.5,251.2 L1155.8,250.9 L1156.1,249.9 L1156.4,250.2 L1156.7,249.7 L1157.0,249.2 L1157.3,248.5 L1157.7,248.5 L1158.0,248.0 L1158.3,248.1 L1158.6,247.6 L1158.9,246.4 L1159.2,245.8 L1159.5,246.0 L1159.8,244.8 L1160.1,244.2 L1160.4,243.6 L1160.8,242.5 L1161.1,240.2 L1161.4,240.2 L1161.7,240.0 L1162.0,239.6 L1162.3,238.5 L1162.6,238.8 L1162.9,237.9 L1163.2,236.8 L1163.5,236.2 L1163.8,236.4 L1164.2,235.4 L1164.5,234.8 L1164.8,236.3 L1165.1,236.5 L1165.4,236.7 L1165.7,237.2 L1166.0,237.0 L1166.3,235.5 L1166.6,236.6 L1166.9,237.3 L1167.3,236.9 L1167.6,235.0 L1167.9,235.9 L1168.2,236.3 L1168.6,234.4 L1169.0,233.2 L1169.4,232.4 L1169.7,230.9 L1170.1,230.5 L1170.5,229.3 L1170.8,228.6 L1171.2,227.4 L1171.5,224.8 L1171.9,223.1 L1172.2,224.2 L1172.5,222.3 L1172.8,221.1 L1173.2,219.5 L1173.5,218.3 L1173.8,216.2 L1174.2,213.8 L1174.6,212.3 L1174.9,209.6 L1175.3,208.5 L1175.7,210.1 L1176.1,209.4 L1176.4,210.8 L1176.8,212.2 L1177.1,213.9 L1177.4,213.8 L1177.8,214.4 L1178.1,214.3 L1178.4,215.3 L1178.7,217.2 L1179.1,219.6 L1179.4,219.3 L1179.8,219.1 L1180.1,217.9 L1180.5,216.1 L1180.9,216.2 L1181.3,212.4 L1181.6,211.1 L1182.0,209.8 L1182.4,209.6 L1182.7,209.0 L1183.0,208.4 L1183.3,206.3 L1183.7,205.1 L1184.0,204.4 L1184.3,203.0 L1184.6,201.8 L1184.9,200.3 L1185.2,199.0 L1185.5,197.3 L1185.9,200.5 L1186.2,201.5 L1186.5,201.7 L1186.8,204.1 L1187.2,203.8 L1187.6,203.6 L1187.9,204.3 L1188.3,203.3 L1188.7,201.5 L1189.1,199.6 L1189.4,198.3 L1189.8,196.8 L1190.1,196.6 L1190.5,198.2 L1190.8,197.1 L1191.1,195.5 L1191.4,197.2 L1191.7,197.8 L1192.0,198.4 L1192.3,198.9 L1192.7,199.5 L1193.0,200.1 L1193.3,200.0 L1193.6,199.5 L1193.9,199.3 L1194.2,197.8 L1194.5,197.0 L1194.8,196.0 L1195.1,196.8 L1195.4,197.3 L1195.7,196.8 L1196.1,197.3 L1196.4,198.9 L1196.7,199.0 L1197.0,197.0 L1197.3,196.3 L1197.6,196.2 L1197.9,195.5 L1198.2,195.2 L1198.5,195.3 L1198.9,196.3 L1199.2,196.4 L1199.5,198.1 L1199.8,199.1 L1200.2,200.3 L1200.5,200.1 L1200.8,199.6 L1201.1,199.5 L1201.4,200.1 L1201.7,200.1 L1202.0,199.1 L1202.3,200.2 L1202.6,199.1 L1202.9,198.4 L1203.3,198.5 L1203.6,196.4 L1203.9,197.3 L1204.2,196.2 L1204.5,198.7 L1204.8,200.2 L1205.2,202.4 L1205.5,204.3 L1205.8,206.2 L1206.2,207.0 L1206.5,208.6 L1206.8,211.3 L1207.2,213.3 L1207.5,213.4 L1207.8,214.5 L1208.2,215.1 L1208.5,214.6 L1208.8,214.4 L1209.1,212.4 L1209.4,212.1 L1209.7,211.4 L1210.0,210.6 L1210.3,210.9 L1210.7,211.5 L1211.0,212.0 L1211.3,212.6 L1211.6,215.5 L1211.9,217.0 L1212.2,217.0 L1212.5,216.7 L1212.8,215.3 L1213.1,213.2 L1213.4,212.5 L1213.7,213.2 L1214.0,214.2 L1214.3,213.7 L1214.6,213.6 L1214.9,214.4 L1215.3,214.6 L1215.6,214.8 L1215.9,216.0 L1216.2,216.8 L1216.5,216.4 L1216.8,216.0 L1217.1,215.7 L1217.4,216.1 L1217.7,217.0 L1218.1,216.4 L1218.4,218.1 L1218.7,216.8 L1219.0,217.4 L1219.3,217.0 L1219.6,217.6 L1219.9,218.3 L1220.2,219.1 L1220.5,219.9 L1220.9,219.4 L1221.2,218.7 L1221.5,219.1 L1221.9,218.0 L1222.2,216.1 L1222.5,215.3 L1222.9,214.7 L1223.2,212.0 L1223.5,210.9 L1223.9,210.2 L1224.2,207.3 L1224.5,207.6 L1224.8,207.4 L1225.1,206.4 L1225.4,207.5 L1225.8,207.3 L1226.1,206.7 L1226.4,206.5 L1226.7,206.2 L1227.0,205.9 L1227.3,205.3 L1227.6,204.7 L1227.9,203.0 L1228.2,202.4 L1228.5,202.7 L1228.9,201.0 L1229.2,203.2 L1229.5,202.8 L1229.9,202.1 L1230.2,201.3 L1230.5,202.1 L1230.9,202.5 L1231.2,202.0 L1231.5,201.8 L1231.9,201.3 L1232.2,200.9 L1232.5,201.1 L1232.9,200.7 L1233.2,201.2 L1233.5,200.9 L1233.9,201.7 L1234.2,202.5 L1234.5,203.9 L1234.8,204.5 L1235.1,204.8 L1235.4,205.1 L1235.7,205.1 L1236.0,205.5 L1236.3,206.6 L1236.6,207.1 L1236.9,207.2 L1237.2,206.8 L1237.6,206.7 L1237.9,206.7 L1238.2,206.7 L1238.5,205.9 L1238.8,204.0 L1239.1,203.2 L1239.4,202.7 L1239.7,201.4 L1240.0,201.2 L1240.3,200.3 L1240.6,199.1 L1240.9,197.9 L1241.3,198.1 L1241.6,197.7 L1241.9,196.4 L1242.2,195.4 L1242.5,195.8 L1242.8,195.6 L1243.1,194.7 L1243.4,195.1 L1243.7,193.9 L1244.0,193.2 L1244.3,194.4 L1244.6,194.3 L1244.9,194.7 L1245.3,194.8 L1245.6,194.3 L1245.9,193.3 L1246.2,193.2 L1246.5,194.0 L1246.8,192.7 L1247.1,193.3 L1247.4,192.7 L1247.7,191.8 L1248.0,192.3 L1248.4,192.8 L1248.7,192.2 L1249.0,191.2 L1249.3,192.2 L1249.6,191.9 L1249.9,193.3 L1250.2,192.9 L1250.5,194.0 L1250.8,194.6 L1251.1,194.7 L1251.4,195.9 L1251.7,197.1 L1252.0,197.1 L1252.3,196.9 L1252.6,197.7 L1253.0,197.0 L1253.3,198.2 L1253.6,198.9 L1253.9,200.3 L1254.2,200.7 L1254.5,200.8 L1254.8,200.9 L1255.1,201.0 L1255.4,200.3 L1255.8,201.8 L1256.1,202.1 L1256.4,201.9 L1256.7,201.4 L1257.0,202.9 L1257.3,203.2 L1257.6,202.4 L1257.9,202.9 L1258.2,203.8 L1258.5,203.0 L1258.8,202.7 L1259.1,202.0 L1259.4,201.3 L1259.7,202.0 L1260.0,204.4 L1260.3,204.1 L1260.7,204.1 L1261.0,205.0 L1261.3,205.1 L1261.6,206.1 L1261.9,206.6 L1262.2,205.8 L1262.5,205.4 L1262.8,205.9 L1263.1,206.9 L1263.5,207.2 L1263.8,208.2 L1264.1,207.3 L1264.4,208.1 L1264.7,208.0 L1265.0,208.6 L1265.3,209.3 L1265.6,209.0 L1265.9,209.9 L1266.2,210.1 L1266.6,211.5 L1266.9,212.0 L1267.2,212.8 L1267.5,212.7 L1267.8,211.9 L1268.2,212.3 L1268.5,211.2 L1268.8,211.3 L1269.1,210.7 L1269.4,209.3 L1269.7,208.8 L1270.0,207.8 L1270.3,207.4 L1270.6,206.9 L1270.9,207.7 L1271.2,207.6 L1271.6,209.1 L1271.9,209.4 L1272.2,208.8 L1272.5,208.1 L1272.8,209.8 L1273.1,209.3 L1273.4,209.8 L1273.7,209.9 L1274.0,209.3 L1274.3,208.3 L1274.6,207.4 L1274.9,207.0 L1275.3,207.4 L1275.6,207.8 L1275.9,208.4 L1276.2,210.0 L1276.5,210.1 L1276.8,211.0 L1277.1,209.8 L1277.4,209.3 L1277.7,208.4 L1278.0,208.5 L1278.3,208.9 L1278.6,208.7 L1279.0,208.0 L1279.3,208.1 L1279.6,207.3 L1279.9,207.2 L1280.2,206.9 L1280.5,206.8 L1280.8,204.6 L1281.1,204.0 L1281.4,204.9 L1281.7,204.8 L1282.0,206.1 L1282.3,205.2 L1282.6,204.3 L1283.0,205.1 L1283.3,205.7 L1283.6,207.2 L1283.9,207.4 L1284.2,207.4 L1284.5,208.3 L1284.8,208.1 L1285.1,208.0 L1285.4,208.0 L1285.7,208.3 L1286.1,209.2 L1286.4,209.0 L1286.7,209.4 L1287.0,209.3 L1287.3,209.9 L1287.6,207.9 L1288.0,208.4 L1288.3,208.8 L1288.6,208.3 L1289.0,209.2 L1289.3,209.3 L1289.6,209.9 L1289.9,210.5 L1290.2,210.9 L1290.6,210.8 L1290.9,210.4 L1291.2,210.9 L1291.5,211.2 L1291.8,212.1 L1292.1,214.5 L1292.5,219.2 L1292.8,220.1 L1293.1,220.7 L1293.5,219.9 L1293.8,219.5 L1294.1,220.0 L1294.4,219.5 L1294.7,218.4 L1295.0,218.8 L1295.3,218.9 L1295.6,217.9 L1295.9,218.8 L1296.2,218.6 L1296.5,218.8 L1296.8,219.7 L1297.1,220.2 L1297.4,219.6 L1297.7,220.6 L1298.1,219.8 L1298.4,218.6 L1298.7,218.2 L1299.0,217.6 L1299.3,217.9 L1299.6,219.3 L1299.9,221.0 L1300.2,224.9 L1300.5,226.5 L1300.9,228.1 L1301.2,229.1 L1301.5,231.3 L1301.8,232.4 L1302.1,234.7 L1302.5,236.0 L1302.8,236.1 L1303.1,234.8 L1303.4,234.2 L1303.7,233.2 L1304.0,232.6 L1304.3,231.1 L1304.6,231.5 L1305.0,231.5 L1305.3,231.8 L1305.6,233.3 L1305.9,233.6 L1306.2,234.5 L1306.5,234.2 L1306.8,233.9 L1307.1,233.7 L1307.4,232.3 L1307.7,232.3 L1308.0,231.4 L1308.3,230.6 L1308.7,231.3 L1309.0,232.2 L1309.3,230.7 L1309.7,231.5 L1310.0,231.3 L1310.3,230.0 L1310.7,230.0 L1311.0,229.9 L1311.3,229.8 L1311.6,229.2 L1311.9,228.2 L1312.2,228.4 L1312.5,228.9 L1312.8,229.1 L1313.1,229.0 L1313.5,229.7 L1313.8,228.9 L1314.1,229.2 L1314.5,229.7 L1314.8,230.6 L1315.1,230.7 L1315.5,231.1 L1315.8,231.3 L1316.1,232.6 L1316.4,230.8 L1316.7,231.2 L1317.1,233.2 L1317.4,232.9 L1317.7,231.6 L1318.0,232.2 L1318.3,231.6 L1318.6,231.9 L1318.9,232.7 L1319.2,234.2 L1319.6,234.3 L1319.9,234.2 L1320.2,234.3 L1320.5,233.7 L1320.8,232.6 L1321.1,232.5 L1321.4,232.5 L1321.7,232.1 L1322.0,232.1 L1322.3,232.5 L1322.6,232.1 L1322.9,232.4 L1323.2,233.3 L1323.5,233.8 L1323.8,234.5 L1324.1,235.8 L1324.4,235.9 L1324.8,235.8 L1325.1,235.2 L1325.4,235.0 L1325.7,235.9 L1326.0,235.3 L1326.4,235.8 L1326.7,235.0 L1327.0,235.2 L1327.4,235.2 L1327.7,235.7 L1328.0,235.1 L1328.4,234.7 L1328.7,235.0 L1329.0,235.1 L1329.4,236.3 L1329.7,235.7 L1330.0,235.3 L1330.4,235.2 L1330.7,235.7 L1331.0,235.9 L1331.4,236.0 L1331.7,234.6 L1332.0,236.1 L1332.4,236.5 L1332.7,235.3 L1333.0,233.9 L1333.4,233.8 L1333.7,233.8 L1334.0,232.1 L1334.4,232.5 L1334.7,231.7 L1335.0,232.5 L1335.4,233.3 L1335.7,233.5 L1336.0,232.0 L1336.4,232.9 L1336.7,235.1 L1337.0,236.5 L1337.4,238.7 L1337.7,241.4 L1338.0,240.9 L1338.3,240.8 L1338.6,240.6 L1338.9,241.6 L1339.2,240.2 L1339.5,241.7 L1339.9,241.1 L1340.2,241.7 L1340.6,240.4 L1340.9,240.0" fill="none" stroke="#7f9096" stroke-width="2.25" stroke-linejoin="round" stroke-linecap="round"/>
<line x1="107" x2="107" y1="153.5" y2="716" stroke="#808f98" stroke-width="2"/>
<line x1="1348.2" x2="1348.2" y1="153.5" y2="716" stroke="#e58e78" stroke-width="2"/>
<line x1="1401.8" x2="1401.8" y1="153.5" y2="716" stroke="#c9687a" stroke-width="2"/>
<g fill="#666666">
<text x="63.72" y="176.1" font-size="11px" textLength="33.97" lengthAdjust="spacingAndGlyphs">$100k</text>
<text x="70.21" y="193.9" font-size="11px" textLength="27.62" lengthAdjust="spacingAndGlyphs">$60k</text>
<text x="70.21" y="232.2" font-size="11px" textLength="27.62" lengthAdjust="spacingAndGlyphs">$20k</text>
<text x="77.52" y="264.2" font-size="11px" textLength="20.18" lengthAdjust="spacingAndGlyphs">$8k</text>
<text x="77.52" y="288.4" font-size="11px" textLength="20.18" lengthAdjust="spacingAndGlyphs">$4k</text>
<text x="77.52" y="336.7" font-size="11px" textLength="20.18" lengthAdjust="spacingAndGlyphs">$1k</text>
<text x="70.21" y="354.5" font-size="11px" textLength="28.04" lengthAdjust="spacingAndGlyphs">$600</text>
<text x="70.21" y="392.8" font-size="11px" textLength="28.04" lengthAdjust="spacingAndGlyphs">$200</text>
<text x="77.52" y="424.8" font-size="11px" textLength="20.58" lengthAdjust="spacingAndGlyphs">$80</text>
<text x="77.52" y="449.0" font-size="11px" textLength="20.58" lengthAdjust="spacingAndGlyphs">$40</text>
<text x="77.52" y="497.3" font-size="11px" textLength="20.58" lengthAdjust="spacingAndGlyphs">$10</text>
<text x="84.01" y="515.1" font-size="11px" textLength="14.27" lengthAdjust="spacingAndGlyphs">$6</text>
<text x="84.01" y="553.4" font-size="11px" textLength="14.27" lengthAdjust="spacingAndGlyphs">$2</text>
<text x="66.91" y="585.4" font-size="11px" textLength="31.39" lengthAdjust="spacingAndGlyphs">$0.80</text>
<text x="66.91" y="609.6" font-size="11px" textLength="31.39" lengthAdjust="spacingAndGlyphs">$0.40</text>
<text x="66.91" y="657.9" font-size="11px" textLength="31.39" lengthAdjust="spacingAndGlyphs">$0.10</text>
<text x="66.91" y="675.7" font-size="11px" textLength="31.39" lengthAdjust="spacingAndGlyphs">$0.06</text>
<text x="66.91" y="714.0" font-size="11px" textLength="31.39" lengthAdjust="spacingAndGlyphs">$0.02</text>
</g>
<g fill="#666666">
<text x="1357.03" y="713.8" font-size="11px" textLength="7.00" lengthAdjust="spacingAndGlyphs">0</text>
<text x="1410.22" y="713.8" font-size="11px" textLength="27.18" lengthAdjust="spacingAndGlyphs">-80K</text>
<text x="1357.25" y="573.4" font-size="11px" textLength="28.07" lengthAdjust="spacingAndGlyphs">800K</text>
<text x="1410.44" y="573.4" font-size="11px" textLength="6.88" lengthAdjust="spacingAndGlyphs">0</text>
<text x="1357.27" y="433.0" font-size="11px" textLength="27.10" lengthAdjust="spacingAndGlyphs">1.6M</text>
<text x="1410.66" y="433.0" font-size="11px" textLength="21.30" lengthAdjust="spacingAndGlyphs">80K</text>
<text x="1357.25" y="292.6" font-size="11px" textLength="27.13" lengthAdjust="spacingAndGlyphs">2.4M</text>
<text x="1410.98" y="292.6" font-size="11px" textLength="27.94" lengthAdjust="spacingAndGlyphs">160K</text>
</g>
<circle cx="92.3" cy="132.5" r="4.4" fill="#8a9ba5"/>
<text x="100.75" y="136.6" font-size="12px" font-weight="bold" fill="#333333" textLength="98.42" lengthAdjust="spacingAndGlyphs">BTC: Price [USD]</text>
<circle cx="92.3" cy="147.6" r="4.4" fill="#ee866c"/>
<text x="100.99" y="151.7" font-size="12px" font-weight="bold" fill="#333333" textLength="257.95" lengthAdjust="spacingAndGlyphs">Supply Held by Crab Entities (0.1 to 10 BTC)</text>
<circle cx="447.4" cy="132.5" r="4.4" fill="#c6a31d"/>
<text x="455.24" y="136.6" font-size="12px" font-weight="bold" fill="#d5d5d5" textLength="321.50" lengthAdjust="spacingAndGlyphs">BTC: Supply Held by Entities with Balance 0.1 - 1 [BTC]</text>
<text x="455.25" y="151.7" font-size="12px" font-weight="bold" fill="#333333" textLength="6.00" lengthAdjust="spacingAndGlyphs">-</text>
<circle cx="802.4" cy="132.5" r="4.4" fill="#c3851b"/>
<text x="810.24" y="136.6" font-size="12px" font-weight="bold" fill="#d5d5d5" textLength="317.42" lengthAdjust="spacingAndGlyphs">BTC: Supply Held by Entities with Balance 1 - 10 [BTC]</text>
<circle cx="802.4" cy="147.6" r="4.4" fill="#e0687c"/>
<text x="810.50" y="151.7" font-size="12px" font-weight="bold" fill="#333333" textLength="192.77" lengthAdjust="spacingAndGlyphs">Crab Supply Net Position Change</text>
<text x="33.14" y="821.1" font-size="14.5px" fill="#777777" textLength="265.83" lengthAdjust="spacingAndGlyphs">© 2022 Glassnode. All Rights Reserved.</text>
<g fill="#111111" stroke="#111111" stroke-width="0.8">
<text transform="scale(1.05,1)" x="1276.51 1290.41 1296.68 1312.86 1324.05 1335.85 1350.54 1365.60 1380.40" y="823.1" font-size="26px">glassnode</text>
</g>
</svg></body></html>
